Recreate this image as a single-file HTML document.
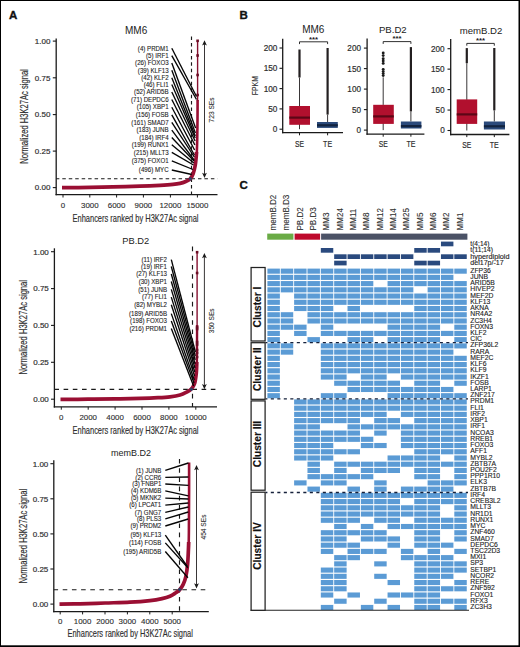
<!DOCTYPE html>
<html><head><meta charset="utf-8"><title>figure</title>
<style>html,body{margin:0;padding:0;background:#fff;width:520px;height:647px;overflow:hidden}
svg text{font-family:"Liberation Sans", sans-serif}</style></head>
<body>
<svg width="520" height="647" viewBox="0 0 520 647" style="display:block" font-family="&quot;Liberation Sans&quot;, sans-serif">
<rect x="0.00" y="0.00" width="520.00" height="647.00" fill="#ffffff" />
<text x="125.00" y="34.00" font-size="10" text-anchor="start" fill="#222222" >MM6</text>
<line x1="56.20" y1="38.50" x2="56.20" y2="195.35" stroke="#1a1a1a" stroke-width="1.3" stroke-linecap="butt"/>
<line x1="52.80" y1="41.10" x2="56.20" y2="41.10" stroke="#1a1a1a" stroke-width="1.1" stroke-linecap="butt"/>
<text x="50.40" y="43.90" font-size="8.0" text-anchor="end" fill="#2e2e2e" stroke="#2e2e2e" stroke-width="0.18" >1.00</text>
<line x1="52.80" y1="77.80" x2="56.20" y2="77.80" stroke="#1a1a1a" stroke-width="1.1" stroke-linecap="butt"/>
<text x="50.40" y="80.60" font-size="8.0" text-anchor="end" fill="#2e2e2e" stroke="#2e2e2e" stroke-width="0.18" >0.75</text>
<line x1="52.80" y1="114.60" x2="56.20" y2="114.60" stroke="#1a1a1a" stroke-width="1.1" stroke-linecap="butt"/>
<text x="50.40" y="117.40" font-size="8.0" text-anchor="end" fill="#2e2e2e" stroke="#2e2e2e" stroke-width="0.18" >0.50</text>
<line x1="52.80" y1="151.10" x2="56.20" y2="151.10" stroke="#1a1a1a" stroke-width="1.1" stroke-linecap="butt"/>
<text x="50.40" y="153.90" font-size="8.0" text-anchor="end" fill="#2e2e2e" stroke="#2e2e2e" stroke-width="0.18" >0.25</text>
<line x1="52.80" y1="187.60" x2="56.20" y2="187.60" stroke="#1a1a1a" stroke-width="1.1" stroke-linecap="butt"/>
<text x="50.40" y="190.40" font-size="8.0" text-anchor="end" fill="#2e2e2e" stroke="#2e2e2e" stroke-width="0.18" >0.00</text>
<line x1="55.55" y1="194.70" x2="217.50" y2="194.70" stroke="#1a1a1a" stroke-width="1.3" stroke-linecap="butt"/>
<line x1="63.00" y1="194.70" x2="63.00" y2="197.50" stroke="#1a1a1a" stroke-width="1.0" stroke-linecap="butt"/>
<text x="63.00" y="207.80" font-size="7.9" text-anchor="middle" fill="#2e2e2e" stroke="#2e2e2e" stroke-width="0.12" >0</text>
<line x1="89.80" y1="194.70" x2="89.80" y2="197.50" stroke="#1a1a1a" stroke-width="1.0" stroke-linecap="butt"/>
<text x="89.80" y="207.80" font-size="7.9" text-anchor="middle" fill="#2e2e2e" stroke="#2e2e2e" stroke-width="0.12" >3000</text>
<line x1="116.60" y1="194.70" x2="116.60" y2="197.50" stroke="#1a1a1a" stroke-width="1.0" stroke-linecap="butt"/>
<text x="116.60" y="207.80" font-size="7.9" text-anchor="middle" fill="#2e2e2e" stroke="#2e2e2e" stroke-width="0.12" >6000</text>
<line x1="143.40" y1="194.70" x2="143.40" y2="197.50" stroke="#1a1a1a" stroke-width="1.0" stroke-linecap="butt"/>
<text x="143.40" y="207.80" font-size="7.9" text-anchor="middle" fill="#2e2e2e" stroke="#2e2e2e" stroke-width="0.12" >9000</text>
<line x1="170.40" y1="194.70" x2="170.40" y2="197.50" stroke="#1a1a1a" stroke-width="1.0" stroke-linecap="butt"/>
<text x="170.40" y="207.80" font-size="7.9" text-anchor="middle" fill="#2e2e2e" stroke="#2e2e2e" stroke-width="0.12" >12000</text>
<line x1="197.40" y1="194.70" x2="197.40" y2="197.50" stroke="#1a1a1a" stroke-width="1.0" stroke-linecap="butt"/>
<text x="197.40" y="207.80" font-size="7.9" text-anchor="middle" fill="#2e2e2e" stroke="#2e2e2e" stroke-width="0.12" >15000</text>
<text x="72.50" y="221.60" font-size="10.3" text-anchor="start" fill="#2e2e2e" stroke="#2e2e2e" stroke-width="0.15" textLength="126.0" lengthAdjust="spacingAndGlyphs" >Enhancers ranked by H3K27Ac signal</text>
<text x="28.20" y="116.50" font-size="10.3" text-anchor="middle" fill="#2e2e2e" stroke="#2e2e2e" stroke-width="0.15" textLength="94.6" lengthAdjust="spacingAndGlyphs" transform="rotate(-90 28.20 116.50)" >Normalized H3K27Ac signal</text>
<line x1="56.20" y1="178.70" x2="217.50" y2="178.70" stroke="#1a1a1a" stroke-width="1.15" stroke-dasharray="3.5 2.96" stroke-dashoffset="0.36" stroke-linecap="butt"/>
<line x1="191.50" y1="36.50" x2="191.50" y2="194.70" stroke="#1a1a1a" stroke-width="1.15" stroke-dasharray="3.5 2.96" stroke-linecap="butt"/>
<path d="M62.00,187.70 C66.67,187.65 81.50,187.53 90.00,187.40 C98.50,187.27 104.67,187.10 113.00,186.90 C121.33,186.70 132.17,186.47 140.00,186.20 C147.83,185.93 154.50,185.60 160.00,185.30 C165.50,185.00 169.67,184.72 173.00,184.40 C176.33,184.08 177.97,183.83 180.00,183.40 C182.03,182.97 183.48,182.58 185.20,181.80 C186.92,181.02 188.97,180.08 190.30,178.70 C191.63,177.32 192.38,175.70 193.20,173.50 C194.02,171.30 194.70,168.25 195.20,165.50 C195.70,162.75 195.98,159.25 196.20,157.00 C196.42,154.75 196.45,152.83 196.50,152.00" stroke="#9a0f33" stroke-width="3.7" fill="none" stroke-linecap="butt" stroke-linejoin="round"/>
<path d="M196.60,157.00 C196.65,155.83 196.80,152.83 196.90,150.00 C197.00,147.17 197.10,145.00 197.20,140.00 C197.30,135.00 197.43,126.67 197.50,120.00 C197.57,113.33 197.58,103.33 197.60,100.00" stroke="#9a0f33" stroke-width="2.6" fill="none" stroke-linecap="butt"/>
<line x1="197.60" y1="40.30" x2="197.60" y2="101.00" stroke="#85102f" stroke-width="1.4" stroke-linecap="butt"/>
<rect x="196.30" y="39.50" width="2.6" height="2.6" fill="#6a0c24"/>
<rect x="196.30" y="54.20" width="2.6" height="2.6" fill="#6a0c24"/>
<rect x="196.30" y="73.70" width="2.6" height="2.6" fill="#6a0c24"/>
<rect x="196.30" y="93.70" width="2.6" height="2.6" fill="#6a0c24"/>
<text x="168.60" y="50.55" font-size="6.5" text-anchor="end" fill="#1c1c1c" stroke="#1c1c1c" stroke-width="0.1" textLength="30.75" lengthAdjust="spacingAndGlyphs" >(4) PRDM1</text>
<line x1="171.80" y1="48.30" x2="196.50" y2="96.50" stroke="#050505" stroke-width="1.35" stroke-linecap="butt"/>
<text x="168.60" y="57.95" font-size="6.5" text-anchor="end" fill="#1c1c1c" stroke="#1c1c1c" stroke-width="0.1" textLength="22.55" lengthAdjust="spacingAndGlyphs" >(5) IRF1</text>
<line x1="171.80" y1="55.70" x2="196.50" y2="99.50" stroke="#050505" stroke-width="1.35" stroke-linecap="butt"/>
<text x="168.60" y="65.15" font-size="6.5" text-anchor="end" fill="#1c1c1c" stroke="#1c1c1c" stroke-width="0.1" textLength="33.49" lengthAdjust="spacingAndGlyphs" >(26) FOXO3</text>
<line x1="171.80" y1="62.90" x2="195.60" y2="128.00" stroke="#050505" stroke-width="1.35" stroke-linecap="butt"/>
<text x="168.60" y="72.55" font-size="6.5" text-anchor="end" fill="#1c1c1c" stroke="#1c1c1c" stroke-width="0.1" textLength="30.77" lengthAdjust="spacingAndGlyphs" >(39) KLF13</text>
<line x1="171.80" y1="70.30" x2="195.40" y2="133.00" stroke="#050505" stroke-width="1.35" stroke-linecap="butt"/>
<text x="168.60" y="79.95" font-size="6.5" text-anchor="end" fill="#1c1c1c" stroke="#1c1c1c" stroke-width="0.1" textLength="27.34" lengthAdjust="spacingAndGlyphs" >(42) KLF2</text>
<line x1="171.80" y1="77.70" x2="195.30" y2="136.00" stroke="#050505" stroke-width="1.35" stroke-linecap="butt"/>
<text x="168.60" y="86.85" font-size="6.5" text-anchor="end" fill="#1c1c1c" stroke="#1c1c1c" stroke-width="0.1" textLength="24.95" lengthAdjust="spacingAndGlyphs" >(46) FLI1</text>
<line x1="171.80" y1="84.60" x2="195.20" y2="138.00" stroke="#050505" stroke-width="1.35" stroke-linecap="butt"/>
<text x="168.60" y="94.25" font-size="6.5" text-anchor="end" fill="#1c1c1c" stroke="#1c1c1c" stroke-width="0.1" textLength="34.52" lengthAdjust="spacingAndGlyphs" >(52) ARID5B</text>
<line x1="171.80" y1="92.00" x2="195.10" y2="141.00" stroke="#050505" stroke-width="1.35" stroke-linecap="butt"/>
<text x="168.60" y="101.75" font-size="6.5" text-anchor="end" fill="#1c1c1c" stroke="#1c1c1c" stroke-width="0.1" textLength="37.59" lengthAdjust="spacingAndGlyphs" >(71) DEPDC6</text>
<line x1="171.80" y1="99.50" x2="194.90" y2="145.00" stroke="#050505" stroke-width="1.35" stroke-linecap="butt"/>
<text x="168.60" y="109.45" font-size="6.5" text-anchor="end" fill="#1c1c1c" stroke="#1c1c1c" stroke-width="0.1" textLength="31.79" lengthAdjust="spacingAndGlyphs" >(105) XBP1</text>
<line x1="171.80" y1="107.20" x2="194.60" y2="150.00" stroke="#050505" stroke-width="1.35" stroke-linecap="butt"/>
<text x="168.60" y="117.15" font-size="6.5" text-anchor="end" fill="#1c1c1c" stroke="#1c1c1c" stroke-width="0.1" textLength="32.81" lengthAdjust="spacingAndGlyphs" >(156) FOSB</text>
<line x1="171.80" y1="114.90" x2="194.40" y2="155.00" stroke="#050505" stroke-width="1.35" stroke-linecap="butt"/>
<text x="168.60" y="124.55" font-size="6.5" text-anchor="end" fill="#1c1c1c" stroke="#1c1c1c" stroke-width="0.1" textLength="37.25" lengthAdjust="spacingAndGlyphs" >(161) SMAD7</text>
<line x1="171.80" y1="122.30" x2="194.30" y2="157.00" stroke="#050505" stroke-width="1.35" stroke-linecap="butt"/>
<text x="168.60" y="132.45" font-size="6.5" text-anchor="end" fill="#1c1c1c" stroke="#1c1c1c" stroke-width="0.1" textLength="32.13" lengthAdjust="spacingAndGlyphs" >(183) JUNB</text>
<line x1="171.80" y1="130.20" x2="194.10" y2="160.00" stroke="#050505" stroke-width="1.35" stroke-linecap="butt"/>
<text x="168.60" y="139.75" font-size="6.5" text-anchor="end" fill="#1c1c1c" stroke="#1c1c1c" stroke-width="0.1" textLength="29.39" lengthAdjust="spacingAndGlyphs" >(184) IRF4</text>
<line x1="171.80" y1="137.50" x2="194.00" y2="161.00" stroke="#050505" stroke-width="1.35" stroke-linecap="butt"/>
<text x="168.60" y="146.95" font-size="6.5" text-anchor="end" fill="#1c1c1c" stroke="#1c1c1c" stroke-width="0.1" textLength="36.91" lengthAdjust="spacingAndGlyphs" >(199) RUNX1</text>
<line x1="171.80" y1="144.70" x2="193.80" y2="163.00" stroke="#050505" stroke-width="1.35" stroke-linecap="butt"/>
<text x="168.60" y="154.55" font-size="6.5" text-anchor="end" fill="#1c1c1c" stroke="#1c1c1c" stroke-width="0.1" textLength="34.75" lengthAdjust="spacingAndGlyphs" >(215) MLLT3</text>
<line x1="171.80" y1="152.30" x2="193.50" y2="165.00" stroke="#050505" stroke-width="1.35" stroke-linecap="butt"/>
<text x="168.60" y="163.05" font-size="6.5" text-anchor="end" fill="#1c1c1c" stroke="#1c1c1c" stroke-width="0.1" textLength="36.91" lengthAdjust="spacingAndGlyphs" >(375) FOXO1</text>
<line x1="171.80" y1="160.80" x2="193.00" y2="169.50" stroke="#050505" stroke-width="1.35" stroke-linecap="butt"/>
<text x="168.60" y="172.25" font-size="6.5" text-anchor="end" fill="#1c1c1c" stroke="#1c1c1c" stroke-width="0.1" textLength="29.73" lengthAdjust="spacingAndGlyphs" >(496) MYC</text>
<line x1="171.80" y1="170.00" x2="191.80" y2="174.50" stroke="#050505" stroke-width="1.35" stroke-linecap="butt"/>
<path d="M190.40,176.70 L192.40,178.70 L190.40,180.70 L188.40,178.70 Z" stroke="none" stroke-width="1" fill="#2e3f66" />
<line x1="204.50" y1="42.30" x2="204.50" y2="176.00" stroke="#231f20" stroke-width="0.9" stroke-linecap="butt"/>
<path d="M204.50,40.30 L202.10,45.60 L204.50,44.30 L206.90,45.60 Z" stroke="none" stroke-width="1" fill="#1a1a1a" />
<path d="M204.50,178.00 L202.10,172.70 L204.50,174.00 L206.90,172.70 Z" stroke="none" stroke-width="1" fill="#1a1a1a" />
<text x="213.90" y="109.90" font-size="6.6" text-anchor="middle" fill="#2e2e2e" stroke="#2e2e2e" stroke-width="0.1" transform="rotate(-90 213.90 109.90)" >723 SEs</text>
<text x="122.30" y="243.80" font-size="9.3" text-anchor="start" fill="#222222" >PB.D2</text>
<line x1="54.40" y1="248.30" x2="54.40" y2="407.55" stroke="#1a1a1a" stroke-width="1.3" stroke-linecap="butt"/>
<line x1="51.00" y1="251.70" x2="54.40" y2="251.70" stroke="#1a1a1a" stroke-width="1.1" stroke-linecap="butt"/>
<text x="48.80" y="254.50" font-size="8.0" text-anchor="end" fill="#2e2e2e" stroke="#2e2e2e" stroke-width="0.18" >1.00</text>
<line x1="51.00" y1="288.60" x2="54.40" y2="288.60" stroke="#1a1a1a" stroke-width="1.1" stroke-linecap="butt"/>
<text x="48.80" y="291.40" font-size="8.0" text-anchor="end" fill="#2e2e2e" stroke="#2e2e2e" stroke-width="0.18" >0.75</text>
<line x1="51.00" y1="325.40" x2="54.40" y2="325.40" stroke="#1a1a1a" stroke-width="1.1" stroke-linecap="butt"/>
<text x="48.80" y="328.20" font-size="8.0" text-anchor="end" fill="#2e2e2e" stroke="#2e2e2e" stroke-width="0.18" >0.50</text>
<line x1="51.00" y1="362.30" x2="54.40" y2="362.30" stroke="#1a1a1a" stroke-width="1.1" stroke-linecap="butt"/>
<text x="48.80" y="365.10" font-size="8.0" text-anchor="end" fill="#2e2e2e" stroke="#2e2e2e" stroke-width="0.18" >0.25</text>
<line x1="51.00" y1="399.20" x2="54.40" y2="399.20" stroke="#1a1a1a" stroke-width="1.1" stroke-linecap="butt"/>
<text x="48.80" y="402.00" font-size="8.0" text-anchor="end" fill="#2e2e2e" stroke="#2e2e2e" stroke-width="0.18" >0.00</text>
<line x1="53.75" y1="406.90" x2="217.00" y2="406.90" stroke="#1a1a1a" stroke-width="1.3" stroke-linecap="butt"/>
<line x1="61.30" y1="406.90" x2="61.30" y2="409.70" stroke="#1a1a1a" stroke-width="1.0" stroke-linecap="butt"/>
<text x="61.30" y="419.80" font-size="7.9" text-anchor="middle" fill="#2e2e2e" stroke="#2e2e2e" stroke-width="0.12" >0</text>
<line x1="88.20" y1="406.90" x2="88.20" y2="409.70" stroke="#1a1a1a" stroke-width="1.0" stroke-linecap="butt"/>
<text x="88.20" y="419.80" font-size="7.9" text-anchor="middle" fill="#2e2e2e" stroke="#2e2e2e" stroke-width="0.12" >2000</text>
<line x1="115.10" y1="406.90" x2="115.10" y2="409.70" stroke="#1a1a1a" stroke-width="1.0" stroke-linecap="butt"/>
<text x="115.10" y="419.80" font-size="7.9" text-anchor="middle" fill="#2e2e2e" stroke="#2e2e2e" stroke-width="0.12" >4000</text>
<line x1="142.00" y1="406.90" x2="142.00" y2="409.70" stroke="#1a1a1a" stroke-width="1.0" stroke-linecap="butt"/>
<text x="142.00" y="419.80" font-size="7.9" text-anchor="middle" fill="#2e2e2e" stroke="#2e2e2e" stroke-width="0.12" >6000</text>
<line x1="168.90" y1="406.90" x2="168.90" y2="409.70" stroke="#1a1a1a" stroke-width="1.0" stroke-linecap="butt"/>
<text x="168.90" y="419.80" font-size="7.9" text-anchor="middle" fill="#2e2e2e" stroke="#2e2e2e" stroke-width="0.12" >8000</text>
<line x1="195.80" y1="406.90" x2="195.80" y2="409.70" stroke="#1a1a1a" stroke-width="1.0" stroke-linecap="butt"/>
<text x="195.80" y="419.80" font-size="7.9" text-anchor="middle" fill="#2e2e2e" stroke="#2e2e2e" stroke-width="0.12" >10000</text>
<text x="72.50" y="433.60" font-size="10.3" text-anchor="start" fill="#2e2e2e" stroke="#2e2e2e" stroke-width="0.15" textLength="126.0" lengthAdjust="spacingAndGlyphs" >Enhancers ranked by H3K27Ac signal</text>
<text x="26.80" y="327.30" font-size="10.3" text-anchor="middle" fill="#2e2e2e" stroke="#2e2e2e" stroke-width="0.15" textLength="94.6" lengthAdjust="spacingAndGlyphs" transform="rotate(-90 26.80 327.30)" >Normalized H3K27Ac signal</text>
<line x1="54.40" y1="389.40" x2="217.00" y2="389.40" stroke="#1a1a1a" stroke-width="1.15" stroke-dasharray="4.6 4.6" stroke-linecap="butt"/>
<line x1="192.50" y1="246.60" x2="192.50" y2="406.90" stroke="#1a1a1a" stroke-width="1.15" stroke-dasharray="4.6 4.6" stroke-linecap="butt"/>
<path d="M60.50,399.40 C65.08,399.37 78.92,399.28 88.00,399.20 C97.08,399.12 106.33,399.03 115.00,398.90 C123.67,398.77 132.83,398.60 140.00,398.40 C147.17,398.20 153.00,397.97 158.00,397.70 C163.00,397.43 166.33,397.25 170.00,396.80 C173.67,396.35 177.25,395.77 180.00,395.00 C182.75,394.23 184.65,393.17 186.50,392.20 C188.35,391.23 189.77,390.60 191.10,389.20 C192.43,387.80 193.63,386.50 194.50,383.80 C195.37,381.10 195.92,376.63 196.30,373.00 C196.68,369.37 196.72,363.83 196.80,362.00" stroke="#9a0f33" stroke-width="3.7" fill="none" stroke-linecap="butt" stroke-linejoin="round"/>
<path d="M196.80,365.00 C196.82,364.17 196.87,363.67 196.90,360.00 C196.93,356.33 196.97,348.83 197.00,343.00 C197.03,337.17 197.08,328.00 197.10,325.00" stroke="#9a0f33" stroke-width="2.4" fill="none" stroke-linecap="butt"/>
<line x1="197.10" y1="251.20" x2="197.10" y2="366.00" stroke="#85102f" stroke-width="1.4" stroke-linecap="butt"/>
<rect x="195.80" y="250.90" width="2.6" height="2.6" fill="#6a0c24"/>
<rect x="195.80" y="271.70" width="2.6" height="2.6" fill="#6a0c24"/>
<rect x="195.80" y="325.70" width="2.6" height="2.6" fill="#6a0c24"/>
<rect x="195.80" y="327.70" width="2.6" height="2.6" fill="#6a0c24"/>
<rect x="195.80" y="340.70" width="2.6" height="2.6" fill="#6a0c24"/>
<rect x="195.80" y="343.20" width="2.6" height="2.6" fill="#6a0c24"/>
<rect x="195.80" y="348.70" width="2.6" height="2.6" fill="#6a0c24"/>
<rect x="195.80" y="351.70" width="2.6" height="2.6" fill="#6a0c24"/>
<rect x="195.80" y="355.70" width="2.6" height="2.6" fill="#6a0c24"/>
<text x="167.00" y="261.85" font-size="6.5" text-anchor="end" fill="#1c1c1c" stroke="#1c1c1c" stroke-width="0.1" textLength="25.52" lengthAdjust="spacingAndGlyphs" >(11) IRF2</text>
<line x1="171.30" y1="259.60" x2="195.40" y2="352.00" stroke="#050505" stroke-width="1.35" stroke-linecap="butt"/>
<text x="167.00" y="268.75" font-size="6.5" text-anchor="end" fill="#1c1c1c" stroke="#1c1c1c" stroke-width="0.1" textLength="25.97" lengthAdjust="spacingAndGlyphs" >(19) IRF1</text>
<line x1="171.30" y1="266.50" x2="195.30" y2="356.00" stroke="#050505" stroke-width="1.35" stroke-linecap="butt"/>
<text x="167.00" y="276.25" font-size="6.5" text-anchor="end" fill="#1c1c1c" stroke="#1c1c1c" stroke-width="0.1" textLength="30.77" lengthAdjust="spacingAndGlyphs" >(27) KLF13</text>
<line x1="171.30" y1="274.00" x2="195.20" y2="360.00" stroke="#050505" stroke-width="1.35" stroke-linecap="butt"/>
<text x="167.00" y="283.75" font-size="6.5" text-anchor="end" fill="#1c1c1c" stroke="#1c1c1c" stroke-width="0.1" textLength="28.37" lengthAdjust="spacingAndGlyphs" >(30) XBP1</text>
<line x1="171.30" y1="281.50" x2="195.10" y2="364.00" stroke="#050505" stroke-width="1.35" stroke-linecap="butt"/>
<text x="167.00" y="291.65" font-size="6.5" text-anchor="end" fill="#1c1c1c" stroke="#1c1c1c" stroke-width="0.1" textLength="28.71" lengthAdjust="spacingAndGlyphs" >(51) JUNB</text>
<line x1="171.30" y1="289.40" x2="195.00" y2="368.00" stroke="#050505" stroke-width="1.35" stroke-linecap="butt"/>
<text x="167.00" y="299.35" font-size="6.5" text-anchor="end" fill="#1c1c1c" stroke="#1c1c1c" stroke-width="0.1" textLength="24.95" lengthAdjust="spacingAndGlyphs" >(77) FLI1</text>
<line x1="171.30" y1="297.10" x2="194.80" y2="372.00" stroke="#050505" stroke-width="1.35" stroke-linecap="butt"/>
<text x="167.00" y="306.95" font-size="6.5" text-anchor="end" fill="#1c1c1c" stroke="#1c1c1c" stroke-width="0.1" textLength="32.81" lengthAdjust="spacingAndGlyphs" >(82) MYBL2</text>
<line x1="171.30" y1="304.70" x2="194.60" y2="376.00" stroke="#050505" stroke-width="1.35" stroke-linecap="butt"/>
<text x="167.00" y="315.85" font-size="6.5" text-anchor="end" fill="#1c1c1c" stroke="#1c1c1c" stroke-width="0.1" textLength="37.94" lengthAdjust="spacingAndGlyphs" >(189) ARID5B</text>
<line x1="171.30" y1="313.60" x2="194.30" y2="380.00" stroke="#050505" stroke-width="1.35" stroke-linecap="butt"/>
<text x="167.00" y="323.35" font-size="6.5" text-anchor="end" fill="#1c1c1c" stroke="#1c1c1c" stroke-width="0.1" textLength="36.91" lengthAdjust="spacingAndGlyphs" >(198) FOXO3</text>
<line x1="171.30" y1="321.10" x2="194.00" y2="383.00" stroke="#050505" stroke-width="1.35" stroke-linecap="butt"/>
<text x="167.00" y="330.85" font-size="6.5" text-anchor="end" fill="#1c1c1c" stroke="#1c1c1c" stroke-width="0.1" textLength="37.59" lengthAdjust="spacingAndGlyphs" >(216) PRDM1</text>
<line x1="171.30" y1="328.60" x2="193.60" y2="386.00" stroke="#050505" stroke-width="1.35" stroke-linecap="butt"/>
<path d="M191.40,387.20 L193.40,389.20 L191.40,391.20 L189.40,389.20 Z" stroke="none" stroke-width="1" fill="#2e3f66" />
<line x1="204.40" y1="255.00" x2="204.40" y2="387.20" stroke="#231f20" stroke-width="0.9" stroke-linecap="butt"/>
<path d="M204.40,253.00 L202.00,258.30 L204.40,257.00 L206.80,258.30 Z" stroke="none" stroke-width="1" fill="#1a1a1a" />
<path d="M204.40,389.20 L202.00,383.90 L204.40,385.20 L206.80,383.90 Z" stroke="none" stroke-width="1" fill="#1a1a1a" />
<text x="213.90" y="320.80" font-size="6.6" text-anchor="middle" fill="#2e2e2e" stroke="#2e2e2e" stroke-width="0.1" transform="rotate(-90 213.90 320.80)" >350 SEs</text>
<text x="131.00" y="456.00" font-size="9.0" text-anchor="middle" fill="#222222" >memB.D2</text>
<line x1="53.80" y1="460.30" x2="53.80" y2="612.25" stroke="#1a1a1a" stroke-width="1.3" stroke-linecap="butt"/>
<line x1="50.40" y1="463.70" x2="53.80" y2="463.70" stroke="#1a1a1a" stroke-width="1.1" stroke-linecap="butt"/>
<text x="48.30" y="466.50" font-size="8.0" text-anchor="end" fill="#2e2e2e" stroke="#2e2e2e" stroke-width="0.18" >1.00</text>
<line x1="50.40" y1="498.80" x2="53.80" y2="498.80" stroke="#1a1a1a" stroke-width="1.1" stroke-linecap="butt"/>
<text x="48.30" y="501.60" font-size="8.0" text-anchor="end" fill="#2e2e2e" stroke="#2e2e2e" stroke-width="0.18" >0.75</text>
<line x1="50.40" y1="533.90" x2="53.80" y2="533.90" stroke="#1a1a1a" stroke-width="1.1" stroke-linecap="butt"/>
<text x="48.30" y="536.70" font-size="8.0" text-anchor="end" fill="#2e2e2e" stroke="#2e2e2e" stroke-width="0.18" >0.50</text>
<line x1="50.40" y1="569.00" x2="53.80" y2="569.00" stroke="#1a1a1a" stroke-width="1.1" stroke-linecap="butt"/>
<text x="48.30" y="571.80" font-size="8.0" text-anchor="end" fill="#2e2e2e" stroke="#2e2e2e" stroke-width="0.18" >0.25</text>
<line x1="50.40" y1="604.10" x2="53.80" y2="604.10" stroke="#1a1a1a" stroke-width="1.1" stroke-linecap="butt"/>
<text x="48.30" y="606.90" font-size="8.0" text-anchor="end" fill="#2e2e2e" stroke="#2e2e2e" stroke-width="0.18" >0.00</text>
<line x1="53.15" y1="611.60" x2="208.80" y2="611.60" stroke="#1a1a1a" stroke-width="1.3" stroke-linecap="butt"/>
<line x1="60.20" y1="611.60" x2="60.20" y2="614.40" stroke="#1a1a1a" stroke-width="1.0" stroke-linecap="butt"/>
<text x="60.20" y="624.20" font-size="7.9" text-anchor="middle" fill="#2e2e2e" stroke="#2e2e2e" stroke-width="0.12" >0</text>
<line x1="82.60" y1="611.60" x2="82.60" y2="614.40" stroke="#1a1a1a" stroke-width="1.0" stroke-linecap="butt"/>
<text x="82.60" y="624.20" font-size="7.9" text-anchor="middle" fill="#2e2e2e" stroke="#2e2e2e" stroke-width="0.12" >1000</text>
<line x1="105.00" y1="611.60" x2="105.00" y2="614.40" stroke="#1a1a1a" stroke-width="1.0" stroke-linecap="butt"/>
<text x="105.00" y="624.20" font-size="7.9" text-anchor="middle" fill="#2e2e2e" stroke="#2e2e2e" stroke-width="0.12" >2000</text>
<line x1="127.40" y1="611.60" x2="127.40" y2="614.40" stroke="#1a1a1a" stroke-width="1.0" stroke-linecap="butt"/>
<text x="127.40" y="624.20" font-size="7.9" text-anchor="middle" fill="#2e2e2e" stroke="#2e2e2e" stroke-width="0.12" >3000</text>
<line x1="149.80" y1="611.60" x2="149.80" y2="614.40" stroke="#1a1a1a" stroke-width="1.0" stroke-linecap="butt"/>
<text x="149.80" y="624.20" font-size="7.9" text-anchor="middle" fill="#2e2e2e" stroke="#2e2e2e" stroke-width="0.12" >4000</text>
<line x1="172.20" y1="611.60" x2="172.20" y2="614.40" stroke="#1a1a1a" stroke-width="1.0" stroke-linecap="butt"/>
<text x="172.20" y="624.20" font-size="7.9" text-anchor="middle" fill="#2e2e2e" stroke="#2e2e2e" stroke-width="0.12" >5000</text>
<text x="67.50" y="636.50" font-size="10.3" text-anchor="start" fill="#2e2e2e" stroke="#2e2e2e" stroke-width="0.15" textLength="125.4" lengthAdjust="spacingAndGlyphs" >Enhancers ranked by H3K27Ac signal</text>
<text x="26.80" y="536.10" font-size="10.3" text-anchor="middle" fill="#2e2e2e" stroke="#2e2e2e" stroke-width="0.15" textLength="94.6" lengthAdjust="spacingAndGlyphs" transform="rotate(-90 26.80 536.10)" >Normalized H3K27Ac signal</text>
<line x1="53.80" y1="589.70" x2="207.00" y2="589.70" stroke="#1a1a1a" stroke-width="1.15" stroke-dasharray="4.6 4.6" stroke-dashoffset="0.3" stroke-linecap="butt"/>
<line x1="179.50" y1="459.00" x2="179.50" y2="611.60" stroke="#1a1a1a" stroke-width="1.15" stroke-dasharray="4.6 4.6" stroke-linecap="butt"/>
<path d="M59.50,604.20 C62.92,604.13 72.42,604.00 80.00,603.80 C87.58,603.60 96.67,603.27 105.00,603.00 C113.33,602.73 122.50,602.60 130.00,602.20 C137.50,601.80 144.67,601.20 150.00,600.60 C155.33,600.00 158.67,599.33 162.00,598.60 C165.33,597.87 167.70,597.17 170.00,596.20 C172.30,595.23 174.22,593.83 175.80,592.80 C177.38,591.77 178.27,591.40 179.50,590.00 C180.73,588.60 182.13,586.68 183.20,584.40 C184.27,582.12 185.17,579.67 185.90,576.30 C186.63,572.93 187.18,568.58 187.60,564.20 C188.02,559.82 188.22,553.70 188.40,550.00 C188.58,546.30 188.65,543.33 188.70,542.00" stroke="#9a0f33" stroke-width="3.7" fill="none" stroke-linecap="butt" stroke-linejoin="round"/>
<path d="M188.70,545.00 C188.73,542.50 188.85,535.83 188.90,530.00 C188.95,524.17 188.97,516.67 189.00,510.00 C189.03,503.33 189.08,497.92 189.10,490.00 C189.12,482.08 189.10,467.08 189.10,462.50" stroke="#9a0f33" stroke-width="2.6" fill="none" stroke-linecap="butt"/>
<line x1="189.10" y1="463.00" x2="189.10" y2="463.50" stroke="#85102f" stroke-width="1.4" stroke-linecap="butt"/>
<text x="161.30" y="472.65" font-size="6.5" text-anchor="end" fill="#1c1c1c" stroke="#1c1c1c" stroke-width="0.1" textLength="25.28" lengthAdjust="spacingAndGlyphs" >(1) JUNB</text>
<line x1="165.30" y1="470.40" x2="188.40" y2="463.00" stroke="#050505" stroke-width="1.35" stroke-linecap="butt"/>
<text x="161.30" y="479.65" font-size="6.5" text-anchor="end" fill="#1c1c1c" stroke="#1c1c1c" stroke-width="0.1" textLength="25.97" lengthAdjust="spacingAndGlyphs" >(2) CCR6</text>
<line x1="165.30" y1="477.40" x2="188.40" y2="477.00" stroke="#050505" stroke-width="1.35" stroke-linecap="butt"/>
<text x="161.30" y="486.25" font-size="6.5" text-anchor="end" fill="#1c1c1c" stroke="#1c1c1c" stroke-width="0.1" textLength="29.05" lengthAdjust="spacingAndGlyphs" >(3) FNBP1</text>
<line x1="165.30" y1="484.00" x2="188.40" y2="485.30" stroke="#050505" stroke-width="1.35" stroke-linecap="butt"/>
<text x="161.30" y="493.15" font-size="6.5" text-anchor="end" fill="#1c1c1c" stroke="#1c1c1c" stroke-width="0.1" textLength="30.41" lengthAdjust="spacingAndGlyphs" >(4) KDM6B</text>
<line x1="165.30" y1="490.90" x2="188.40" y2="495.80" stroke="#050505" stroke-width="1.35" stroke-linecap="butt"/>
<text x="161.30" y="500.35" font-size="6.5" text-anchor="end" fill="#1c1c1c" stroke="#1c1c1c" stroke-width="0.1" textLength="30.41" lengthAdjust="spacingAndGlyphs" >(5) MKNK2</text>
<line x1="165.30" y1="498.10" x2="188.40" y2="499.00" stroke="#050505" stroke-width="1.35" stroke-linecap="butt"/>
<text x="161.30" y="507.45" font-size="6.5" text-anchor="end" fill="#1c1c1c" stroke="#1c1c1c" stroke-width="0.1" textLength="32.01" lengthAdjust="spacingAndGlyphs" >(6) LPCAT1</text>
<line x1="165.30" y1="505.20" x2="188.40" y2="503.00" stroke="#050505" stroke-width="1.35" stroke-linecap="butt"/>
<text x="161.30" y="514.55" font-size="6.5" text-anchor="end" fill="#1c1c1c" stroke="#1c1c1c" stroke-width="0.1" textLength="26.65" lengthAdjust="spacingAndGlyphs" >(7) GNG7</text>
<line x1="165.30" y1="512.30" x2="188.40" y2="507.00" stroke="#050505" stroke-width="1.35" stroke-linecap="butt"/>
<text x="161.30" y="521.15" font-size="6.5" text-anchor="end" fill="#1c1c1c" stroke="#1c1c1c" stroke-width="0.1" textLength="24.27" lengthAdjust="spacingAndGlyphs" >(8) PLS3</text>
<line x1="165.30" y1="518.90" x2="188.30" y2="512.00" stroke="#050505" stroke-width="1.35" stroke-linecap="butt"/>
<text x="161.30" y="528.25" font-size="6.5" text-anchor="end" fill="#1c1c1c" stroke="#1c1c1c" stroke-width="0.1" textLength="30.75" lengthAdjust="spacingAndGlyphs" >(9) PRDM2</text>
<line x1="165.30" y1="526.00" x2="188.20" y2="519.00" stroke="#050505" stroke-width="1.35" stroke-linecap="butt"/>
<text x="161.30" y="537.45" font-size="6.5" text-anchor="end" fill="#1c1c1c" stroke="#1c1c1c" stroke-width="0.1" textLength="30.77" lengthAdjust="spacingAndGlyphs" >(95) KLF13</text>
<line x1="165.30" y1="535.20" x2="187.30" y2="566.50" stroke="#050505" stroke-width="1.35" stroke-linecap="butt"/>
<text x="161.30" y="545.15" font-size="6.5" text-anchor="end" fill="#1c1c1c" stroke="#1c1c1c" stroke-width="0.1" textLength="32.35" lengthAdjust="spacingAndGlyphs" >(114) FOSB</text>
<line x1="165.30" y1="542.90" x2="187.90" y2="567.80" stroke="#050505" stroke-width="1.35" stroke-linecap="butt"/>
<text x="161.30" y="553.75" font-size="6.5" text-anchor="end" fill="#1c1c1c" stroke="#1c1c1c" stroke-width="0.1" textLength="37.94" lengthAdjust="spacingAndGlyphs" >(195) ARID5B</text>
<line x1="165.30" y1="551.50" x2="187.90" y2="577.70" stroke="#050505" stroke-width="1.35" stroke-linecap="butt"/>
<path d="M179.60,587.60 L181.60,589.60 L179.60,591.60 L177.60,589.60 Z" stroke="none" stroke-width="1" fill="#2e3f66" />
<line x1="196.50" y1="467.00" x2="196.50" y2="586.50" stroke="#231f20" stroke-width="0.9" stroke-linecap="butt"/>
<path d="M196.50,465.00 L194.10,470.30 L196.50,469.00 L198.90,470.30 Z" stroke="none" stroke-width="1" fill="#1a1a1a" />
<path d="M196.50,588.50 L194.10,583.20 L196.50,584.50 L198.90,583.20 Z" stroke="none" stroke-width="1" fill="#1a1a1a" />
<text x="205.60" y="527.00" font-size="6.6" text-anchor="middle" fill="#2e2e2e" stroke="#2e2e2e" stroke-width="0.1" transform="rotate(-90 205.60 527.00)" >454 SEs</text>
<text x="258.00" y="85.60" font-size="9.8" text-anchor="middle" fill="#2e2e2e" stroke="#2e2e2e" stroke-width="0.1" textLength="19.2" lengthAdjust="spacingAndGlyphs" transform="rotate(-90 258.00 85.60)" >FPKM</text>
<text x="313.30" y="33.40" font-size="10" text-anchor="middle" fill="#222222" >MM6</text>
<line x1="282.70" y1="38.70" x2="282.70" y2="133.35" stroke="#1a1a1a" stroke-width="1.3" stroke-linecap="butt"/>
<line x1="282.05" y1="132.70" x2="343.00" y2="132.70" stroke="#1a1a1a" stroke-width="1.3" stroke-linecap="butt"/>
<line x1="279.50" y1="48.00" x2="282.70" y2="48.00" stroke="#1a1a1a" stroke-width="1.1" stroke-linecap="butt"/>
<text x="277.30" y="50.90" font-size="8.2" text-anchor="end" fill="#2e2e2e" stroke="#2e2e2e" stroke-width="0.18" >200</text>
<line x1="279.50" y1="68.30" x2="282.70" y2="68.30" stroke="#1a1a1a" stroke-width="1.1" stroke-linecap="butt"/>
<text x="277.30" y="71.20" font-size="8.2" text-anchor="end" fill="#2e2e2e" stroke="#2e2e2e" stroke-width="0.18" >150</text>
<line x1="279.50" y1="88.60" x2="282.70" y2="88.60" stroke="#1a1a1a" stroke-width="1.1" stroke-linecap="butt"/>
<text x="277.30" y="91.50" font-size="8.2" text-anchor="end" fill="#2e2e2e" stroke="#2e2e2e" stroke-width="0.18" >100</text>
<line x1="279.50" y1="108.90" x2="282.70" y2="108.90" stroke="#1a1a1a" stroke-width="1.1" stroke-linecap="butt"/>
<text x="277.30" y="111.80" font-size="8.2" text-anchor="end" fill="#2e2e2e" stroke="#2e2e2e" stroke-width="0.18" >50</text>
<line x1="279.50" y1="129.20" x2="282.70" y2="129.20" stroke="#1a1a1a" stroke-width="1.1" stroke-linecap="butt"/>
<text x="277.30" y="132.10" font-size="8.2" text-anchor="end" fill="#2e2e2e" stroke="#2e2e2e" stroke-width="0.18" >0</text>
<line x1="299.50" y1="132.70" x2="299.50" y2="135.30" stroke="#1a1a1a" stroke-width="1.0" stroke-linecap="butt"/>
<text x="299.50" y="146.60" font-size="8.4" text-anchor="middle" fill="#2e2e2e" stroke="#2e2e2e" stroke-width="0.18" textLength="9.0" lengthAdjust="spacingAndGlyphs" >SE</text>
<line x1="327.60" y1="132.70" x2="327.60" y2="135.30" stroke="#1a1a1a" stroke-width="1.0" stroke-linecap="butt"/>
<text x="327.60" y="146.60" font-size="8.4" text-anchor="middle" fill="#2e2e2e" stroke="#2e2e2e" stroke-width="0.18" textLength="9.0" lengthAdjust="spacingAndGlyphs" >TE</text>
<path d="M299.50,44.10 L299.50,41.80 L327.60,41.80 L327.60,44.10" stroke="#1a1a1a" stroke-width="0.9" fill="none" />
<text x="313.55" y="41.60" font-size="8.0" text-anchor="middle" fill="#222222" font-weight="bold" textLength="9.0" lengthAdjust="spacingAndGlyphs" >***</text>
<line x1="299.50" y1="106.00" x2="299.50" y2="129.20" stroke="#231f20" stroke-width="0.9" stroke-linecap="butt"/>
<line x1="299.50" y1="106.00" x2="299.50" y2="77.50" stroke="#231f20" stroke-width="0.9" stroke-linecap="butt"/>
<line x1="299.50" y1="49.50" x2="299.50" y2="77.50" stroke="#231f20" stroke-width="2.2" stroke-linecap="butt"/>
<rect x="289.30" y="106.00" width="20.70" height="18.80" fill="#b1102e" />
<rect x="289.30" y="116.50" width="20.70" height="2.20" fill="#5c0616" />
<line x1="327.60" y1="122.00" x2="327.60" y2="114.60" stroke="#231f20" stroke-width="0.9" stroke-linecap="butt"/>
<line x1="327.60" y1="48.00" x2="327.60" y2="114.60" stroke="#231f20" stroke-width="2.2" stroke-linecap="butt"/>
<rect x="317.00" y="122.00" width="20.80" height="5.90" fill="#2b4a7b" />
<rect x="317.00" y="124.20" width="20.80" height="2.20" fill="#12233f" />
<text x="392.80" y="33.10" font-size="9.6" text-anchor="middle" fill="#222222" >PB.D2</text>
<line x1="367.10" y1="38.50" x2="367.10" y2="134.75" stroke="#1a1a1a" stroke-width="1.3" stroke-linecap="butt"/>
<line x1="366.45" y1="134.10" x2="424.40" y2="134.10" stroke="#1a1a1a" stroke-width="1.3" stroke-linecap="butt"/>
<line x1="363.90" y1="48.10" x2="367.10" y2="48.10" stroke="#1a1a1a" stroke-width="1.1" stroke-linecap="butt"/>
<text x="361.00" y="51.00" font-size="8.2" text-anchor="end" fill="#2e2e2e" stroke="#2e2e2e" stroke-width="0.18" >200</text>
<line x1="363.90" y1="68.60" x2="367.10" y2="68.60" stroke="#1a1a1a" stroke-width="1.1" stroke-linecap="butt"/>
<text x="361.00" y="71.50" font-size="8.2" text-anchor="end" fill="#2e2e2e" stroke="#2e2e2e" stroke-width="0.18" >150</text>
<line x1="363.90" y1="89.10" x2="367.10" y2="89.10" stroke="#1a1a1a" stroke-width="1.1" stroke-linecap="butt"/>
<text x="361.00" y="92.00" font-size="8.2" text-anchor="end" fill="#2e2e2e" stroke="#2e2e2e" stroke-width="0.18" >100</text>
<line x1="363.90" y1="109.60" x2="367.10" y2="109.60" stroke="#1a1a1a" stroke-width="1.1" stroke-linecap="butt"/>
<text x="361.00" y="112.50" font-size="8.2" text-anchor="end" fill="#2e2e2e" stroke="#2e2e2e" stroke-width="0.18" >50</text>
<line x1="363.90" y1="130.10" x2="367.10" y2="130.10" stroke="#1a1a1a" stroke-width="1.1" stroke-linecap="butt"/>
<text x="361.00" y="133.00" font-size="8.2" text-anchor="end" fill="#2e2e2e" stroke="#2e2e2e" stroke-width="0.18" >0</text>
<line x1="383.20" y1="134.10" x2="383.20" y2="136.70" stroke="#1a1a1a" stroke-width="1.0" stroke-linecap="butt"/>
<text x="383.20" y="147.00" font-size="8.4" text-anchor="middle" fill="#2e2e2e" stroke="#2e2e2e" stroke-width="0.18" textLength="9.0" lengthAdjust="spacingAndGlyphs" >SE</text>
<line x1="410.90" y1="134.10" x2="410.90" y2="136.70" stroke="#1a1a1a" stroke-width="1.0" stroke-linecap="butt"/>
<text x="410.90" y="147.00" font-size="8.4" text-anchor="middle" fill="#2e2e2e" stroke="#2e2e2e" stroke-width="0.18" textLength="9.0" lengthAdjust="spacingAndGlyphs" >TE</text>
<path d="M383.20,43.90 L383.20,41.60 L410.90,41.60 L410.90,43.90" stroke="#1a1a1a" stroke-width="0.9" fill="none" />
<text x="397.05" y="41.40" font-size="8.0" text-anchor="middle" fill="#222222" font-weight="bold" textLength="9.0" lengthAdjust="spacingAndGlyphs" >***</text>
<line x1="383.20" y1="104.80" x2="383.20" y2="130.10" stroke="#231f20" stroke-width="0.9" stroke-linecap="butt"/>
<line x1="383.20" y1="104.80" x2="383.20" y2="77.30" stroke="#231f20" stroke-width="0.9" stroke-linecap="butt"/>
<circle cx="383.20" cy="53.00" r="1.45" fill="#1a1a1a"/>
<circle cx="383.20" cy="55.60" r="1.45" fill="#1a1a1a"/>
<circle cx="383.20" cy="58.80" r="1.45" fill="#1a1a1a"/>
<circle cx="383.20" cy="61.00" r="1.45" fill="#1a1a1a"/>
<circle cx="383.20" cy="63.40" r="1.45" fill="#1a1a1a"/>
<circle cx="383.20" cy="69.40" r="1.45" fill="#1a1a1a"/>
<circle cx="383.20" cy="71.60" r="1.45" fill="#1a1a1a"/>
<circle cx="383.20" cy="73.60" r="1.45" fill="#1a1a1a"/>
<circle cx="383.20" cy="75.60" r="1.45" fill="#1a1a1a"/>
<rect x="373.20" y="104.80" width="20.60" height="19.10" fill="#b1102e" />
<rect x="373.20" y="115.30" width="20.60" height="2.20" fill="#5c0616" />
<line x1="410.90" y1="121.50" x2="410.90" y2="111.40" stroke="#231f20" stroke-width="0.9" stroke-linecap="butt"/>
<line x1="410.90" y1="47.10" x2="410.90" y2="111.40" stroke="#231f20" stroke-width="2.2" stroke-linecap="butt"/>
<rect x="400.90" y="121.50" width="20.50" height="7.00" fill="#2b4a7b" />
<rect x="400.90" y="125.00" width="20.50" height="2.20" fill="#12233f" />
<text x="481.00" y="34.20" font-size="9.6" text-anchor="middle" fill="#222222" >memB.D2</text>
<line x1="450.70" y1="39.10" x2="450.70" y2="135.15" stroke="#1a1a1a" stroke-width="1.3" stroke-linecap="butt"/>
<line x1="450.05" y1="134.50" x2="509.40" y2="134.50" stroke="#1a1a1a" stroke-width="1.3" stroke-linecap="butt"/>
<line x1="447.50" y1="48.70" x2="450.70" y2="48.70" stroke="#1a1a1a" stroke-width="1.1" stroke-linecap="butt"/>
<text x="444.70" y="51.60" font-size="8.2" text-anchor="end" fill="#2e2e2e" stroke="#2e2e2e" stroke-width="0.18" >200</text>
<line x1="447.50" y1="69.15" x2="450.70" y2="69.15" stroke="#1a1a1a" stroke-width="1.1" stroke-linecap="butt"/>
<text x="444.70" y="72.05" font-size="8.2" text-anchor="end" fill="#2e2e2e" stroke="#2e2e2e" stroke-width="0.18" >150</text>
<line x1="447.50" y1="89.60" x2="450.70" y2="89.60" stroke="#1a1a1a" stroke-width="1.1" stroke-linecap="butt"/>
<text x="444.70" y="92.50" font-size="8.2" text-anchor="end" fill="#2e2e2e" stroke="#2e2e2e" stroke-width="0.18" >100</text>
<line x1="447.50" y1="110.05" x2="450.70" y2="110.05" stroke="#1a1a1a" stroke-width="1.1" stroke-linecap="butt"/>
<text x="444.70" y="112.95" font-size="8.2" text-anchor="end" fill="#2e2e2e" stroke="#2e2e2e" stroke-width="0.18" >50</text>
<line x1="447.50" y1="130.50" x2="450.70" y2="130.50" stroke="#1a1a1a" stroke-width="1.1" stroke-linecap="butt"/>
<text x="444.70" y="133.40" font-size="8.2" text-anchor="end" fill="#2e2e2e" stroke="#2e2e2e" stroke-width="0.18" >0</text>
<line x1="466.80" y1="134.50" x2="466.80" y2="137.10" stroke="#1a1a1a" stroke-width="1.0" stroke-linecap="butt"/>
<text x="466.80" y="147.60" font-size="8.4" text-anchor="middle" fill="#2e2e2e" stroke="#2e2e2e" stroke-width="0.18" textLength="9.0" lengthAdjust="spacingAndGlyphs" >SE</text>
<line x1="494.30" y1="134.50" x2="494.30" y2="137.10" stroke="#1a1a1a" stroke-width="1.0" stroke-linecap="butt"/>
<text x="494.30" y="147.60" font-size="8.4" text-anchor="middle" fill="#2e2e2e" stroke="#2e2e2e" stroke-width="0.18" textLength="9.0" lengthAdjust="spacingAndGlyphs" >TE</text>
<path d="M466.80,45.70 L466.80,43.40 L494.30,43.40 L494.30,45.70" stroke="#1a1a1a" stroke-width="0.9" fill="none" />
<text x="480.55" y="43.20" font-size="8.0" text-anchor="middle" fill="#222222" font-weight="bold" textLength="9.0" lengthAdjust="spacingAndGlyphs" >***</text>
<line x1="466.80" y1="99.40" x2="466.80" y2="130.50" stroke="#231f20" stroke-width="0.9" stroke-linecap="butt"/>
<line x1="466.80" y1="99.40" x2="466.80" y2="63.20" stroke="#231f20" stroke-width="0.9" stroke-linecap="butt"/>
<line x1="466.80" y1="48.10" x2="466.80" y2="63.20" stroke="#231f20" stroke-width="2.2" stroke-linecap="butt"/>
<rect x="456.70" y="99.40" width="20.50" height="24.50" fill="#b1102e" />
<rect x="456.70" y="113.30" width="20.50" height="2.20" fill="#5c0616" />
<line x1="494.30" y1="121.50" x2="494.30" y2="110.40" stroke="#231f20" stroke-width="0.9" stroke-linecap="butt"/>
<line x1="494.30" y1="48.00" x2="494.30" y2="110.40" stroke="#231f20" stroke-width="2.2" stroke-linecap="butt"/>
<rect x="483.90" y="121.50" width="21.10" height="8.00" fill="#2b4a7b" />
<rect x="483.90" y="125.20" width="21.10" height="2.20" fill="#12233f" />
<text x="275.95" y="230.50" font-size="8.6" text-anchor="start" fill="#2e2e2e" stroke="#2e2e2e" stroke-width="0.08" textLength="35.79" lengthAdjust="spacingAndGlyphs" transform="rotate(-90 275.95 230.50)" >memB.D2</text>
<text x="289.29" y="230.50" font-size="8.6" text-anchor="start" fill="#2e2e2e" stroke="#2e2e2e" stroke-width="0.08" textLength="35.79" lengthAdjust="spacingAndGlyphs" transform="rotate(-90 289.29 230.50)" >memB.D3</text>
<text x="302.64" y="230.50" font-size="8.6" text-anchor="start" fill="#2e2e2e" stroke="#2e2e2e" stroke-width="0.08" textLength="23.27" lengthAdjust="spacingAndGlyphs" transform="rotate(-90 302.64 230.50)" >PB.D2</text>
<text x="315.99" y="230.50" font-size="8.6" text-anchor="start" fill="#2e2e2e" stroke="#2e2e2e" stroke-width="0.08" textLength="23.27" lengthAdjust="spacingAndGlyphs" transform="rotate(-90 315.99 230.50)" >PB.D3</text>
<text x="329.34" y="230.50" font-size="8.6" text-anchor="start" fill="#2e2e2e" stroke="#2e2e2e" stroke-width="0.08" textLength="17.89" lengthAdjust="spacingAndGlyphs" transform="rotate(-90 329.34 230.50)" >MM3</text>
<text x="342.69" y="230.50" font-size="8.6" text-anchor="start" fill="#2e2e2e" stroke="#2e2e2e" stroke-width="0.08" textLength="22.37" lengthAdjust="spacingAndGlyphs" transform="rotate(-90 342.69 230.50)" >MM24</text>
<text x="356.04" y="230.50" font-size="8.6" text-anchor="start" fill="#2e2e2e" stroke="#2e2e2e" stroke-width="0.08" textLength="21.77" lengthAdjust="spacingAndGlyphs" transform="rotate(-90 356.04 230.50)" >MM11</text>
<text x="369.39" y="230.50" font-size="8.6" text-anchor="start" fill="#2e2e2e" stroke="#2e2e2e" stroke-width="0.08" textLength="17.89" lengthAdjust="spacingAndGlyphs" transform="rotate(-90 369.39 230.50)" >MM8</text>
<text x="382.74" y="230.50" font-size="8.6" text-anchor="start" fill="#2e2e2e" stroke="#2e2e2e" stroke-width="0.08" textLength="22.37" lengthAdjust="spacingAndGlyphs" transform="rotate(-90 382.74 230.50)" >MM12</text>
<text x="396.09" y="230.50" font-size="8.6" text-anchor="start" fill="#2e2e2e" stroke="#2e2e2e" stroke-width="0.08" textLength="22.37" lengthAdjust="spacingAndGlyphs" transform="rotate(-90 396.09 230.50)" >MM14</text>
<text x="409.44" y="230.50" font-size="8.6" text-anchor="start" fill="#2e2e2e" stroke="#2e2e2e" stroke-width="0.08" textLength="22.37" lengthAdjust="spacingAndGlyphs" transform="rotate(-90 409.44 230.50)" >MM25</text>
<text x="422.78" y="230.50" font-size="8.6" text-anchor="start" fill="#2e2e2e" stroke="#2e2e2e" stroke-width="0.08" textLength="17.89" lengthAdjust="spacingAndGlyphs" transform="rotate(-90 422.78 230.50)" >MM5</text>
<text x="436.13" y="230.50" font-size="8.6" text-anchor="start" fill="#2e2e2e" stroke="#2e2e2e" stroke-width="0.08" textLength="17.89" lengthAdjust="spacingAndGlyphs" transform="rotate(-90 436.13 230.50)" >MM6</text>
<text x="449.48" y="230.50" font-size="8.6" text-anchor="start" fill="#2e2e2e" stroke="#2e2e2e" stroke-width="0.08" textLength="17.89" lengthAdjust="spacingAndGlyphs" transform="rotate(-90 449.48 230.50)" >MM2</text>
<text x="462.83" y="230.50" font-size="8.6" text-anchor="start" fill="#2e2e2e" stroke="#2e2e2e" stroke-width="0.08" textLength="17.89" lengthAdjust="spacingAndGlyphs" transform="rotate(-90 462.83 230.50)" >MM1</text>
<rect x="267.22" y="233.60" width="26.20" height="6.10" fill="#6aab46" />
<rect x="294.60" y="233.60" width="25.50" height="6.10" fill="#be0a2c" />
<rect x="321.10" y="233.60" width="146.30" height="6.10" fill="#4b5266" />
<rect x="440.96" y="241.60" width="12.45" height="4.70" fill="#2a4a7e" />
<rect x="320.82" y="248.00" width="12.45" height="4.70" fill="#2a4a7e" />
<rect x="414.26" y="248.00" width="12.45" height="4.70" fill="#2a4a7e" />
<rect x="427.61" y="248.00" width="12.45" height="4.70" fill="#2a4a7e" />
<rect x="334.17" y="254.30" width="12.45" height="4.70" fill="#2a4a7e" />
<rect x="347.51" y="254.30" width="12.45" height="4.70" fill="#2a4a7e" />
<rect x="360.86" y="254.30" width="12.45" height="4.70" fill="#2a4a7e" />
<rect x="374.21" y="254.30" width="12.45" height="4.70" fill="#2a4a7e" />
<rect x="387.56" y="254.30" width="12.45" height="4.70" fill="#2a4a7e" />
<rect x="400.91" y="254.30" width="12.45" height="4.70" fill="#2a4a7e" />
<rect x="440.96" y="254.30" width="12.45" height="4.70" fill="#2a4a7e" />
<rect x="454.31" y="254.30" width="12.45" height="4.70" fill="#2a4a7e" />
<rect x="334.17" y="260.70" width="12.45" height="4.70" fill="#2a4a7e" />
<rect x="414.26" y="260.70" width="12.45" height="4.70" fill="#2a4a7e" />
<rect x="427.61" y="260.70" width="12.45" height="4.70" fill="#2a4a7e" />
<text x="470.30" y="246.00" font-size="6.8" text-anchor="start" fill="#222222" stroke="#222222" stroke-width="0.12" textLength="19.2" lengthAdjust="spacingAndGlyphs" >t(4;14)</text>
<text x="470.30" y="252.40" font-size="6.8" text-anchor="start" fill="#222222" stroke="#222222" stroke-width="0.12" textLength="22.7" lengthAdjust="spacingAndGlyphs" >t(11;14)</text>
<text x="470.30" y="258.70" font-size="6.8" text-anchor="start" fill="#222222" stroke="#222222" stroke-width="0.12" textLength="39.2" lengthAdjust="spacingAndGlyphs" >hyperdiploid</text>
<text x="470.30" y="265.10" font-size="6.8" text-anchor="start" fill="#222222" stroke="#222222" stroke-width="0.12" textLength="33.4" lengthAdjust="spacingAndGlyphs" >del17p/-17</text>
<rect x="267.42" y="268.60" width="12.45" height="5.10" fill="#5b9bd5" />
<rect x="280.77" y="268.60" width="12.45" height="5.10" fill="#5b9bd5" />
<rect x="294.12" y="268.60" width="12.45" height="5.10" fill="#5b9bd5" />
<rect x="307.47" y="268.60" width="12.45" height="5.10" fill="#5b9bd5" />
<rect x="320.82" y="268.60" width="12.45" height="5.10" fill="#5b9bd5" />
<rect x="334.17" y="268.60" width="12.45" height="5.10" fill="#5b9bd5" />
<rect x="347.51" y="268.60" width="12.45" height="5.10" fill="#5b9bd5" />
<rect x="360.86" y="268.60" width="12.45" height="5.10" fill="#5b9bd5" />
<rect x="374.21" y="268.60" width="12.45" height="5.10" fill="#5b9bd5" />
<rect x="387.56" y="268.60" width="12.45" height="5.10" fill="#5b9bd5" />
<rect x="400.91" y="268.60" width="12.45" height="5.10" fill="#5b9bd5" />
<rect x="414.26" y="268.60" width="12.45" height="5.10" fill="#5b9bd5" />
<rect x="427.61" y="268.60" width="12.45" height="5.10" fill="#5b9bd5" />
<rect x="440.96" y="268.60" width="12.45" height="5.10" fill="#5b9bd5" />
<rect x="454.31" y="268.60" width="12.45" height="5.10" fill="#5b9bd5" />
<text x="470.30" y="272.70" font-size="6.8" text-anchor="start" fill="#222222" stroke="#222222" stroke-width="0.12" >ZFP36</text>
<rect x="267.42" y="274.83" width="12.45" height="5.10" fill="#5b9bd5" />
<rect x="280.77" y="274.83" width="12.45" height="5.10" fill="#5b9bd5" />
<rect x="294.12" y="274.83" width="12.45" height="5.10" fill="#5b9bd5" />
<rect x="307.47" y="274.83" width="12.45" height="5.10" fill="#5b9bd5" />
<rect x="320.82" y="274.83" width="12.45" height="5.10" fill="#5b9bd5" />
<rect x="334.17" y="274.83" width="12.45" height="5.10" fill="#5b9bd5" />
<rect x="347.51" y="274.83" width="12.45" height="5.10" fill="#5b9bd5" />
<rect x="360.86" y="274.83" width="12.45" height="5.10" fill="#5b9bd5" />
<rect x="374.21" y="274.83" width="12.45" height="5.10" fill="#5b9bd5" />
<rect x="387.56" y="274.83" width="12.45" height="5.10" fill="#5b9bd5" />
<rect x="400.91" y="274.83" width="12.45" height="5.10" fill="#5b9bd5" />
<rect x="414.26" y="274.83" width="12.45" height="5.10" fill="#5b9bd5" />
<rect x="427.61" y="274.83" width="12.45" height="5.10" fill="#5b9bd5" />
<rect x="440.96" y="274.83" width="12.45" height="5.10" fill="#5b9bd5" />
<text x="470.30" y="278.93" font-size="6.8" text-anchor="start" fill="#222222" stroke="#222222" stroke-width="0.12" >JUNB</text>
<rect x="267.42" y="281.06" width="12.45" height="5.10" fill="#5b9bd5" />
<rect x="280.77" y="281.06" width="12.45" height="5.10" fill="#5b9bd5" />
<rect x="294.12" y="281.06" width="12.45" height="5.10" fill="#5b9bd5" />
<rect x="307.47" y="281.06" width="12.45" height="5.10" fill="#5b9bd5" />
<rect x="320.82" y="281.06" width="12.45" height="5.10" fill="#5b9bd5" />
<rect x="334.17" y="281.06" width="12.45" height="5.10" fill="#5b9bd5" />
<rect x="347.51" y="281.06" width="12.45" height="5.10" fill="#5b9bd5" />
<rect x="360.86" y="281.06" width="12.45" height="5.10" fill="#5b9bd5" />
<rect x="387.56" y="281.06" width="12.45" height="5.10" fill="#5b9bd5" />
<rect x="400.91" y="281.06" width="12.45" height="5.10" fill="#5b9bd5" />
<rect x="414.26" y="281.06" width="12.45" height="5.10" fill="#5b9bd5" />
<rect x="427.61" y="281.06" width="12.45" height="5.10" fill="#5b9bd5" />
<rect x="440.96" y="281.06" width="12.45" height="5.10" fill="#5b9bd5" />
<rect x="454.31" y="281.06" width="12.45" height="5.10" fill="#5b9bd5" />
<text x="470.30" y="285.16" font-size="6.8" text-anchor="start" fill="#222222" stroke="#222222" stroke-width="0.12" >ARID5B</text>
<rect x="267.42" y="287.28" width="12.45" height="5.10" fill="#5b9bd5" />
<rect x="280.77" y="287.28" width="12.45" height="5.10" fill="#5b9bd5" />
<rect x="294.12" y="287.28" width="12.45" height="5.10" fill="#5b9bd5" />
<rect x="307.47" y="287.28" width="12.45" height="5.10" fill="#5b9bd5" />
<rect x="320.82" y="287.28" width="12.45" height="5.10" fill="#5b9bd5" />
<rect x="334.17" y="287.28" width="12.45" height="5.10" fill="#5b9bd5" />
<rect x="347.51" y="287.28" width="12.45" height="5.10" fill="#5b9bd5" />
<rect x="360.86" y="287.28" width="12.45" height="5.10" fill="#5b9bd5" />
<rect x="374.21" y="287.28" width="12.45" height="5.10" fill="#5b9bd5" />
<rect x="387.56" y="287.28" width="12.45" height="5.10" fill="#5b9bd5" />
<rect x="400.91" y="287.28" width="12.45" height="5.10" fill="#5b9bd5" />
<rect x="427.61" y="287.28" width="12.45" height="5.10" fill="#5b9bd5" />
<rect x="440.96" y="287.28" width="12.45" height="5.10" fill="#5b9bd5" />
<rect x="454.31" y="287.28" width="12.45" height="5.10" fill="#5b9bd5" />
<text x="470.30" y="291.38" font-size="6.8" text-anchor="start" fill="#222222" stroke="#222222" stroke-width="0.12" >HIVEP2</text>
<rect x="267.42" y="293.51" width="12.45" height="5.10" fill="#5b9bd5" />
<rect x="294.12" y="293.51" width="12.45" height="5.10" fill="#5b9bd5" />
<rect x="307.47" y="293.51" width="12.45" height="5.10" fill="#5b9bd5" />
<rect x="320.82" y="293.51" width="12.45" height="5.10" fill="#5b9bd5" />
<rect x="334.17" y="293.51" width="12.45" height="5.10" fill="#5b9bd5" />
<rect x="347.51" y="293.51" width="12.45" height="5.10" fill="#5b9bd5" />
<rect x="360.86" y="293.51" width="12.45" height="5.10" fill="#5b9bd5" />
<rect x="374.21" y="293.51" width="12.45" height="5.10" fill="#5b9bd5" />
<rect x="387.56" y="293.51" width="12.45" height="5.10" fill="#5b9bd5" />
<rect x="400.91" y="293.51" width="12.45" height="5.10" fill="#5b9bd5" />
<rect x="414.26" y="293.51" width="12.45" height="5.10" fill="#5b9bd5" />
<rect x="427.61" y="293.51" width="12.45" height="5.10" fill="#5b9bd5" />
<rect x="440.96" y="293.51" width="12.45" height="5.10" fill="#5b9bd5" />
<rect x="454.31" y="293.51" width="12.45" height="5.10" fill="#5b9bd5" />
<text x="470.30" y="297.61" font-size="6.8" text-anchor="start" fill="#222222" stroke="#222222" stroke-width="0.12" >MEF2D</text>
<rect x="267.42" y="299.74" width="12.45" height="5.10" fill="#5b9bd5" />
<rect x="294.12" y="299.74" width="12.45" height="5.10" fill="#5b9bd5" />
<rect x="307.47" y="299.74" width="12.45" height="5.10" fill="#5b9bd5" />
<rect x="320.82" y="299.74" width="12.45" height="5.10" fill="#5b9bd5" />
<rect x="334.17" y="299.74" width="12.45" height="5.10" fill="#5b9bd5" />
<rect x="347.51" y="299.74" width="12.45" height="5.10" fill="#5b9bd5" />
<rect x="360.86" y="299.74" width="12.45" height="5.10" fill="#5b9bd5" />
<rect x="374.21" y="299.74" width="12.45" height="5.10" fill="#5b9bd5" />
<rect x="387.56" y="299.74" width="12.45" height="5.10" fill="#5b9bd5" />
<rect x="400.91" y="299.74" width="12.45" height="5.10" fill="#5b9bd5" />
<rect x="414.26" y="299.74" width="12.45" height="5.10" fill="#5b9bd5" />
<rect x="427.61" y="299.74" width="12.45" height="5.10" fill="#5b9bd5" />
<rect x="440.96" y="299.74" width="12.45" height="5.10" fill="#5b9bd5" />
<rect x="454.31" y="299.74" width="12.45" height="5.10" fill="#5b9bd5" />
<text x="470.30" y="303.84" font-size="6.8" text-anchor="start" fill="#222222" stroke="#222222" stroke-width="0.12" >KLF13</text>
<rect x="267.42" y="305.97" width="12.45" height="5.10" fill="#5b9bd5" />
<rect x="294.12" y="305.97" width="12.45" height="5.10" fill="#5b9bd5" />
<rect x="307.47" y="305.97" width="12.45" height="5.10" fill="#5b9bd5" />
<rect x="320.82" y="305.97" width="12.45" height="5.10" fill="#5b9bd5" />
<rect x="347.51" y="305.97" width="12.45" height="5.10" fill="#5b9bd5" />
<rect x="414.26" y="305.97" width="12.45" height="5.10" fill="#5b9bd5" />
<rect x="427.61" y="305.97" width="12.45" height="5.10" fill="#5b9bd5" />
<rect x="440.96" y="305.97" width="12.45" height="5.10" fill="#5b9bd5" />
<rect x="454.31" y="305.97" width="12.45" height="5.10" fill="#5b9bd5" />
<text x="470.30" y="310.07" font-size="6.8" text-anchor="start" fill="#222222" stroke="#222222" stroke-width="0.12" >AKNA</text>
<rect x="267.42" y="312.20" width="12.45" height="5.10" fill="#5b9bd5" />
<rect x="280.77" y="312.20" width="12.45" height="5.10" fill="#5b9bd5" />
<rect x="307.47" y="312.20" width="12.45" height="5.10" fill="#5b9bd5" />
<rect x="320.82" y="312.20" width="12.45" height="5.10" fill="#5b9bd5" />
<rect x="334.17" y="312.20" width="12.45" height="5.10" fill="#5b9bd5" />
<rect x="347.51" y="312.20" width="12.45" height="5.10" fill="#5b9bd5" />
<rect x="360.86" y="312.20" width="12.45" height="5.10" fill="#5b9bd5" />
<rect x="374.21" y="312.20" width="12.45" height="5.10" fill="#5b9bd5" />
<rect x="387.56" y="312.20" width="12.45" height="5.10" fill="#5b9bd5" />
<rect x="400.91" y="312.20" width="12.45" height="5.10" fill="#5b9bd5" />
<rect x="414.26" y="312.20" width="12.45" height="5.10" fill="#5b9bd5" />
<rect x="427.61" y="312.20" width="12.45" height="5.10" fill="#5b9bd5" />
<rect x="440.96" y="312.20" width="12.45" height="5.10" fill="#5b9bd5" />
<rect x="454.31" y="312.20" width="12.45" height="5.10" fill="#5b9bd5" />
<text x="470.30" y="316.30" font-size="6.8" text-anchor="start" fill="#222222" stroke="#222222" stroke-width="0.12" >NR4A2</text>
<rect x="267.42" y="318.42" width="12.45" height="5.10" fill="#5b9bd5" />
<rect x="280.77" y="318.42" width="12.45" height="5.10" fill="#5b9bd5" />
<rect x="307.47" y="318.42" width="12.45" height="5.10" fill="#5b9bd5" />
<rect x="320.82" y="318.42" width="12.45" height="5.10" fill="#5b9bd5" />
<rect x="334.17" y="318.42" width="12.45" height="5.10" fill="#5b9bd5" />
<rect x="347.51" y="318.42" width="12.45" height="5.10" fill="#5b9bd5" />
<rect x="360.86" y="318.42" width="12.45" height="5.10" fill="#5b9bd5" />
<rect x="374.21" y="318.42" width="12.45" height="5.10" fill="#5b9bd5" />
<rect x="387.56" y="318.42" width="12.45" height="5.10" fill="#5b9bd5" />
<rect x="400.91" y="318.42" width="12.45" height="5.10" fill="#5b9bd5" />
<rect x="414.26" y="318.42" width="12.45" height="5.10" fill="#5b9bd5" />
<rect x="427.61" y="318.42" width="12.45" height="5.10" fill="#5b9bd5" />
<rect x="440.96" y="318.42" width="12.45" height="5.10" fill="#5b9bd5" />
<rect x="454.31" y="318.42" width="12.45" height="5.10" fill="#5b9bd5" />
<text x="470.30" y="322.52" font-size="6.8" text-anchor="start" fill="#222222" stroke="#222222" stroke-width="0.12" >ZC3H4</text>
<rect x="267.42" y="324.65" width="12.45" height="5.10" fill="#5b9bd5" />
<rect x="280.77" y="324.65" width="12.45" height="5.10" fill="#5b9bd5" />
<rect x="294.12" y="324.65" width="12.45" height="5.10" fill="#5b9bd5" />
<rect x="320.82" y="324.65" width="12.45" height="5.10" fill="#5b9bd5" />
<rect x="387.56" y="324.65" width="12.45" height="5.10" fill="#5b9bd5" />
<rect x="400.91" y="324.65" width="12.45" height="5.10" fill="#5b9bd5" />
<rect x="414.26" y="324.65" width="12.45" height="5.10" fill="#5b9bd5" />
<rect x="427.61" y="324.65" width="12.45" height="5.10" fill="#5b9bd5" />
<rect x="454.31" y="324.65" width="12.45" height="5.10" fill="#5b9bd5" />
<text x="470.30" y="328.75" font-size="6.8" text-anchor="start" fill="#222222" stroke="#222222" stroke-width="0.12" >FOXN3</text>
<rect x="267.42" y="330.88" width="12.45" height="5.10" fill="#5b9bd5" />
<rect x="294.12" y="330.88" width="12.45" height="5.10" fill="#5b9bd5" />
<rect x="320.82" y="330.88" width="12.45" height="5.10" fill="#5b9bd5" />
<rect x="334.17" y="330.88" width="12.45" height="5.10" fill="#5b9bd5" />
<rect x="347.51" y="330.88" width="12.45" height="5.10" fill="#5b9bd5" />
<rect x="360.86" y="330.88" width="12.45" height="5.10" fill="#5b9bd5" />
<rect x="374.21" y="330.88" width="12.45" height="5.10" fill="#5b9bd5" />
<rect x="387.56" y="330.88" width="12.45" height="5.10" fill="#5b9bd5" />
<rect x="400.91" y="330.88" width="12.45" height="5.10" fill="#5b9bd5" />
<rect x="414.26" y="330.88" width="12.45" height="5.10" fill="#5b9bd5" />
<rect x="427.61" y="330.88" width="12.45" height="5.10" fill="#5b9bd5" />
<rect x="440.96" y="330.88" width="12.45" height="5.10" fill="#5b9bd5" />
<rect x="454.31" y="330.88" width="12.45" height="5.10" fill="#5b9bd5" />
<text x="470.30" y="334.98" font-size="6.8" text-anchor="start" fill="#222222" stroke="#222222" stroke-width="0.12" >KLF2</text>
<rect x="267.42" y="337.11" width="12.45" height="5.10" fill="#5b9bd5" />
<rect x="307.47" y="337.11" width="12.45" height="5.10" fill="#5b9bd5" />
<rect x="347.51" y="337.11" width="12.45" height="5.10" fill="#5b9bd5" />
<rect x="360.86" y="337.11" width="12.45" height="5.10" fill="#5b9bd5" />
<rect x="387.56" y="337.11" width="12.45" height="5.10" fill="#5b9bd5" />
<rect x="400.91" y="337.11" width="12.45" height="5.10" fill="#5b9bd5" />
<rect x="414.26" y="337.11" width="12.45" height="5.10" fill="#5b9bd5" />
<rect x="427.61" y="337.11" width="12.45" height="5.10" fill="#5b9bd5" />
<rect x="454.31" y="337.11" width="12.45" height="5.10" fill="#5b9bd5" />
<text x="470.30" y="341.21" font-size="6.8" text-anchor="start" fill="#222222" stroke="#222222" stroke-width="0.12" >CIC</text>
<rect x="267.42" y="343.34" width="12.45" height="5.10" fill="#5b9bd5" />
<rect x="280.77" y="343.34" width="12.45" height="5.10" fill="#5b9bd5" />
<rect x="320.82" y="343.34" width="12.45" height="5.10" fill="#5b9bd5" />
<rect x="334.17" y="343.34" width="12.45" height="5.10" fill="#5b9bd5" />
<rect x="347.51" y="343.34" width="12.45" height="5.10" fill="#5b9bd5" />
<rect x="360.86" y="343.34" width="12.45" height="5.10" fill="#5b9bd5" />
<rect x="374.21" y="343.34" width="12.45" height="5.10" fill="#5b9bd5" />
<rect x="387.56" y="343.34" width="12.45" height="5.10" fill="#5b9bd5" />
<rect x="400.91" y="343.34" width="12.45" height="5.10" fill="#5b9bd5" />
<rect x="414.26" y="343.34" width="12.45" height="5.10" fill="#5b9bd5" />
<rect x="427.61" y="343.34" width="12.45" height="5.10" fill="#5b9bd5" />
<rect x="440.96" y="343.34" width="12.45" height="5.10" fill="#5b9bd5" />
<rect x="454.31" y="343.34" width="12.45" height="5.10" fill="#5b9bd5" />
<text x="470.30" y="347.44" font-size="6.8" text-anchor="start" fill="#222222" stroke="#222222" stroke-width="0.12" >ZFP36L2</text>
<rect x="267.42" y="349.56" width="12.45" height="5.10" fill="#5b9bd5" />
<rect x="280.77" y="349.56" width="12.45" height="5.10" fill="#5b9bd5" />
<rect x="320.82" y="349.56" width="12.45" height="5.10" fill="#5b9bd5" />
<rect x="334.17" y="349.56" width="12.45" height="5.10" fill="#5b9bd5" />
<rect x="347.51" y="349.56" width="12.45" height="5.10" fill="#5b9bd5" />
<rect x="360.86" y="349.56" width="12.45" height="5.10" fill="#5b9bd5" />
<rect x="374.21" y="349.56" width="12.45" height="5.10" fill="#5b9bd5" />
<rect x="387.56" y="349.56" width="12.45" height="5.10" fill="#5b9bd5" />
<rect x="400.91" y="349.56" width="12.45" height="5.10" fill="#5b9bd5" />
<rect x="414.26" y="349.56" width="12.45" height="5.10" fill="#5b9bd5" />
<rect x="427.61" y="349.56" width="12.45" height="5.10" fill="#5b9bd5" />
<rect x="440.96" y="349.56" width="12.45" height="5.10" fill="#5b9bd5" />
<text x="470.30" y="353.66" font-size="6.8" text-anchor="start" fill="#222222" stroke="#222222" stroke-width="0.12" >RARA</text>
<rect x="267.42" y="355.79" width="12.45" height="5.10" fill="#5b9bd5" />
<rect x="320.82" y="355.79" width="12.45" height="5.10" fill="#5b9bd5" />
<rect x="334.17" y="355.79" width="12.45" height="5.10" fill="#5b9bd5" />
<rect x="347.51" y="355.79" width="12.45" height="5.10" fill="#5b9bd5" />
<rect x="360.86" y="355.79" width="12.45" height="5.10" fill="#5b9bd5" />
<rect x="374.21" y="355.79" width="12.45" height="5.10" fill="#5b9bd5" />
<rect x="387.56" y="355.79" width="12.45" height="5.10" fill="#5b9bd5" />
<rect x="400.91" y="355.79" width="12.45" height="5.10" fill="#5b9bd5" />
<rect x="414.26" y="355.79" width="12.45" height="5.10" fill="#5b9bd5" />
<rect x="427.61" y="355.79" width="12.45" height="5.10" fill="#5b9bd5" />
<rect x="440.96" y="355.79" width="12.45" height="5.10" fill="#5b9bd5" />
<rect x="454.31" y="355.79" width="12.45" height="5.10" fill="#5b9bd5" />
<text x="470.30" y="359.89" font-size="6.8" text-anchor="start" fill="#222222" stroke="#222222" stroke-width="0.12" >MEF2C</text>
<rect x="267.42" y="362.02" width="12.45" height="5.10" fill="#5b9bd5" />
<rect x="320.82" y="362.02" width="12.45" height="5.10" fill="#5b9bd5" />
<rect x="334.17" y="362.02" width="12.45" height="5.10" fill="#5b9bd5" />
<rect x="347.51" y="362.02" width="12.45" height="5.10" fill="#5b9bd5" />
<rect x="360.86" y="362.02" width="12.45" height="5.10" fill="#5b9bd5" />
<rect x="374.21" y="362.02" width="12.45" height="5.10" fill="#5b9bd5" />
<rect x="387.56" y="362.02" width="12.45" height="5.10" fill="#5b9bd5" />
<rect x="400.91" y="362.02" width="12.45" height="5.10" fill="#5b9bd5" />
<rect x="414.26" y="362.02" width="12.45" height="5.10" fill="#5b9bd5" />
<rect x="427.61" y="362.02" width="12.45" height="5.10" fill="#5b9bd5" />
<rect x="440.96" y="362.02" width="12.45" height="5.10" fill="#5b9bd5" />
<rect x="454.31" y="362.02" width="12.45" height="5.10" fill="#5b9bd5" />
<text x="470.30" y="366.12" font-size="6.8" text-anchor="start" fill="#222222" stroke="#222222" stroke-width="0.12" >KLF6</text>
<rect x="267.42" y="368.25" width="12.45" height="5.10" fill="#5b9bd5" />
<rect x="320.82" y="368.25" width="12.45" height="5.10" fill="#5b9bd5" />
<rect x="334.17" y="368.25" width="12.45" height="5.10" fill="#5b9bd5" />
<rect x="347.51" y="368.25" width="12.45" height="5.10" fill="#5b9bd5" />
<rect x="360.86" y="368.25" width="12.45" height="5.10" fill="#5b9bd5" />
<rect x="374.21" y="368.25" width="12.45" height="5.10" fill="#5b9bd5" />
<rect x="387.56" y="368.25" width="12.45" height="5.10" fill="#5b9bd5" />
<rect x="400.91" y="368.25" width="12.45" height="5.10" fill="#5b9bd5" />
<rect x="414.26" y="368.25" width="12.45" height="5.10" fill="#5b9bd5" />
<rect x="427.61" y="368.25" width="12.45" height="5.10" fill="#5b9bd5" />
<rect x="440.96" y="368.25" width="12.45" height="5.10" fill="#5b9bd5" />
<rect x="454.31" y="368.25" width="12.45" height="5.10" fill="#5b9bd5" />
<text x="470.30" y="372.35" font-size="6.8" text-anchor="start" fill="#222222" stroke="#222222" stroke-width="0.12" >KLF9</text>
<rect x="267.42" y="374.48" width="12.45" height="5.10" fill="#5b9bd5" />
<rect x="320.82" y="374.48" width="12.45" height="5.10" fill="#5b9bd5" />
<rect x="334.17" y="374.48" width="12.45" height="5.10" fill="#5b9bd5" />
<rect x="360.86" y="374.48" width="12.45" height="5.10" fill="#5b9bd5" />
<rect x="374.21" y="374.48" width="12.45" height="5.10" fill="#5b9bd5" />
<rect x="400.91" y="374.48" width="12.45" height="5.10" fill="#5b9bd5" />
<rect x="414.26" y="374.48" width="12.45" height="5.10" fill="#5b9bd5" />
<rect x="427.61" y="374.48" width="12.45" height="5.10" fill="#5b9bd5" />
<rect x="440.96" y="374.48" width="12.45" height="5.10" fill="#5b9bd5" />
<rect x="454.31" y="374.48" width="12.45" height="5.10" fill="#5b9bd5" />
<text x="470.30" y="378.58" font-size="6.8" text-anchor="start" fill="#222222" stroke="#222222" stroke-width="0.12" >IKZF1</text>
<rect x="267.42" y="380.70" width="12.45" height="5.10" fill="#5b9bd5" />
<rect x="334.17" y="380.70" width="12.45" height="5.10" fill="#5b9bd5" />
<rect x="347.51" y="380.70" width="12.45" height="5.10" fill="#5b9bd5" />
<rect x="360.86" y="380.70" width="12.45" height="5.10" fill="#5b9bd5" />
<rect x="374.21" y="380.70" width="12.45" height="5.10" fill="#5b9bd5" />
<rect x="387.56" y="380.70" width="12.45" height="5.10" fill="#5b9bd5" />
<rect x="414.26" y="380.70" width="12.45" height="5.10" fill="#5b9bd5" />
<rect x="427.61" y="380.70" width="12.45" height="5.10" fill="#5b9bd5" />
<rect x="454.31" y="380.70" width="12.45" height="5.10" fill="#5b9bd5" />
<text x="470.30" y="384.80" font-size="6.8" text-anchor="start" fill="#222222" stroke="#222222" stroke-width="0.12" >FOSB</text>
<rect x="267.42" y="386.93" width="12.45" height="5.10" fill="#5b9bd5" />
<rect x="347.51" y="386.93" width="12.45" height="5.10" fill="#5b9bd5" />
<rect x="360.86" y="386.93" width="12.45" height="5.10" fill="#5b9bd5" />
<rect x="374.21" y="386.93" width="12.45" height="5.10" fill="#5b9bd5" />
<rect x="387.56" y="386.93" width="12.45" height="5.10" fill="#5b9bd5" />
<rect x="400.91" y="386.93" width="12.45" height="5.10" fill="#5b9bd5" />
<rect x="414.26" y="386.93" width="12.45" height="5.10" fill="#5b9bd5" />
<rect x="427.61" y="386.93" width="12.45" height="5.10" fill="#5b9bd5" />
<rect x="440.96" y="386.93" width="12.45" height="5.10" fill="#5b9bd5" />
<text x="470.30" y="391.03" font-size="6.8" text-anchor="start" fill="#222222" stroke="#222222" stroke-width="0.12" >LARP1</text>
<rect x="267.42" y="393.16" width="12.45" height="5.10" fill="#5b9bd5" />
<rect x="320.82" y="393.16" width="12.45" height="5.10" fill="#5b9bd5" />
<rect x="334.17" y="393.16" width="12.45" height="5.10" fill="#5b9bd5" />
<rect x="387.56" y="393.16" width="12.45" height="5.10" fill="#5b9bd5" />
<rect x="400.91" y="393.16" width="12.45" height="5.10" fill="#5b9bd5" />
<rect x="414.26" y="393.16" width="12.45" height="5.10" fill="#5b9bd5" />
<rect x="427.61" y="393.16" width="12.45" height="5.10" fill="#5b9bd5" />
<rect x="440.96" y="393.16" width="12.45" height="5.10" fill="#5b9bd5" />
<rect x="454.31" y="393.16" width="12.45" height="5.10" fill="#5b9bd5" />
<text x="470.30" y="397.26" font-size="6.8" text-anchor="start" fill="#222222" stroke="#222222" stroke-width="0.12" >ZNF217</text>
<rect x="294.12" y="399.39" width="12.45" height="5.10" fill="#5b9bd5" />
<rect x="307.47" y="399.39" width="12.45" height="5.10" fill="#5b9bd5" />
<rect x="320.82" y="399.39" width="12.45" height="5.10" fill="#5b9bd5" />
<rect x="334.17" y="399.39" width="12.45" height="5.10" fill="#5b9bd5" />
<rect x="347.51" y="399.39" width="12.45" height="5.10" fill="#5b9bd5" />
<rect x="360.86" y="399.39" width="12.45" height="5.10" fill="#5b9bd5" />
<rect x="374.21" y="399.39" width="12.45" height="5.10" fill="#5b9bd5" />
<rect x="387.56" y="399.39" width="12.45" height="5.10" fill="#5b9bd5" />
<rect x="400.91" y="399.39" width="12.45" height="5.10" fill="#5b9bd5" />
<rect x="414.26" y="399.39" width="12.45" height="5.10" fill="#5b9bd5" />
<rect x="427.61" y="399.39" width="12.45" height="5.10" fill="#5b9bd5" />
<rect x="440.96" y="399.39" width="12.45" height="5.10" fill="#5b9bd5" />
<rect x="454.31" y="399.39" width="12.45" height="5.10" fill="#5b9bd5" />
<text x="470.30" y="403.49" font-size="6.8" text-anchor="start" fill="#222222" stroke="#222222" stroke-width="0.12" >PRDM1</text>
<rect x="294.12" y="405.62" width="12.45" height="5.10" fill="#5b9bd5" />
<rect x="307.47" y="405.62" width="12.45" height="5.10" fill="#5b9bd5" />
<rect x="320.82" y="405.62" width="12.45" height="5.10" fill="#5b9bd5" />
<rect x="334.17" y="405.62" width="12.45" height="5.10" fill="#5b9bd5" />
<rect x="347.51" y="405.62" width="12.45" height="5.10" fill="#5b9bd5" />
<rect x="360.86" y="405.62" width="12.45" height="5.10" fill="#5b9bd5" />
<rect x="374.21" y="405.62" width="12.45" height="5.10" fill="#5b9bd5" />
<rect x="387.56" y="405.62" width="12.45" height="5.10" fill="#5b9bd5" />
<rect x="400.91" y="405.62" width="12.45" height="5.10" fill="#5b9bd5" />
<rect x="414.26" y="405.62" width="12.45" height="5.10" fill="#5b9bd5" />
<rect x="427.61" y="405.62" width="12.45" height="5.10" fill="#5b9bd5" />
<rect x="440.96" y="405.62" width="12.45" height="5.10" fill="#5b9bd5" />
<rect x="454.31" y="405.62" width="12.45" height="5.10" fill="#5b9bd5" />
<text x="470.30" y="409.72" font-size="6.8" text-anchor="start" fill="#222222" stroke="#222222" stroke-width="0.12" >FLI1</text>
<rect x="294.12" y="411.84" width="12.45" height="5.10" fill="#5b9bd5" />
<rect x="307.47" y="411.84" width="12.45" height="5.10" fill="#5b9bd5" />
<rect x="320.82" y="411.84" width="12.45" height="5.10" fill="#5b9bd5" />
<rect x="334.17" y="411.84" width="12.45" height="5.10" fill="#5b9bd5" />
<rect x="347.51" y="411.84" width="12.45" height="5.10" fill="#5b9bd5" />
<rect x="360.86" y="411.84" width="12.45" height="5.10" fill="#5b9bd5" />
<rect x="374.21" y="411.84" width="12.45" height="5.10" fill="#5b9bd5" />
<rect x="400.91" y="411.84" width="12.45" height="5.10" fill="#5b9bd5" />
<rect x="414.26" y="411.84" width="12.45" height="5.10" fill="#5b9bd5" />
<rect x="427.61" y="411.84" width="12.45" height="5.10" fill="#5b9bd5" />
<rect x="440.96" y="411.84" width="12.45" height="5.10" fill="#5b9bd5" />
<rect x="454.31" y="411.84" width="12.45" height="5.10" fill="#5b9bd5" />
<text x="470.30" y="415.94" font-size="6.8" text-anchor="start" fill="#222222" stroke="#222222" stroke-width="0.12" >IRF2</text>
<rect x="294.12" y="418.07" width="12.45" height="5.10" fill="#5b9bd5" />
<rect x="307.47" y="418.07" width="12.45" height="5.10" fill="#5b9bd5" />
<rect x="320.82" y="418.07" width="12.45" height="5.10" fill="#5b9bd5" />
<rect x="334.17" y="418.07" width="12.45" height="5.10" fill="#5b9bd5" />
<rect x="347.51" y="418.07" width="12.45" height="5.10" fill="#5b9bd5" />
<rect x="374.21" y="418.07" width="12.45" height="5.10" fill="#5b9bd5" />
<rect x="387.56" y="418.07" width="12.45" height="5.10" fill="#5b9bd5" />
<rect x="414.26" y="418.07" width="12.45" height="5.10" fill="#5b9bd5" />
<rect x="427.61" y="418.07" width="12.45" height="5.10" fill="#5b9bd5" />
<rect x="440.96" y="418.07" width="12.45" height="5.10" fill="#5b9bd5" />
<rect x="454.31" y="418.07" width="12.45" height="5.10" fill="#5b9bd5" />
<text x="470.30" y="422.17" font-size="6.8" text-anchor="start" fill="#222222" stroke="#222222" stroke-width="0.12" >XBP1</text>
<rect x="294.12" y="424.30" width="12.45" height="5.10" fill="#5b9bd5" />
<rect x="307.47" y="424.30" width="12.45" height="5.10" fill="#5b9bd5" />
<rect x="347.51" y="424.30" width="12.45" height="5.10" fill="#5b9bd5" />
<rect x="360.86" y="424.30" width="12.45" height="5.10" fill="#5b9bd5" />
<rect x="374.21" y="424.30" width="12.45" height="5.10" fill="#5b9bd5" />
<rect x="387.56" y="424.30" width="12.45" height="5.10" fill="#5b9bd5" />
<rect x="400.91" y="424.30" width="12.45" height="5.10" fill="#5b9bd5" />
<rect x="414.26" y="424.30" width="12.45" height="5.10" fill="#5b9bd5" />
<rect x="427.61" y="424.30" width="12.45" height="5.10" fill="#5b9bd5" />
<rect x="440.96" y="424.30" width="12.45" height="5.10" fill="#5b9bd5" />
<rect x="454.31" y="424.30" width="12.45" height="5.10" fill="#5b9bd5" />
<text x="470.30" y="428.40" font-size="6.8" text-anchor="start" fill="#222222" stroke="#222222" stroke-width="0.12" >IRF1</text>
<rect x="294.12" y="430.53" width="12.45" height="5.10" fill="#5b9bd5" />
<rect x="307.47" y="430.53" width="12.45" height="5.10" fill="#5b9bd5" />
<rect x="320.82" y="430.53" width="12.45" height="5.10" fill="#5b9bd5" />
<rect x="334.17" y="430.53" width="12.45" height="5.10" fill="#5b9bd5" />
<rect x="347.51" y="430.53" width="12.45" height="5.10" fill="#5b9bd5" />
<rect x="374.21" y="430.53" width="12.45" height="5.10" fill="#5b9bd5" />
<rect x="400.91" y="430.53" width="12.45" height="5.10" fill="#5b9bd5" />
<rect x="414.26" y="430.53" width="12.45" height="5.10" fill="#5b9bd5" />
<rect x="427.61" y="430.53" width="12.45" height="5.10" fill="#5b9bd5" />
<rect x="440.96" y="430.53" width="12.45" height="5.10" fill="#5b9bd5" />
<rect x="454.31" y="430.53" width="12.45" height="5.10" fill="#5b9bd5" />
<text x="470.30" y="434.63" font-size="6.8" text-anchor="start" fill="#222222" stroke="#222222" stroke-width="0.12" >NCOA3</text>
<rect x="294.12" y="436.76" width="12.45" height="5.10" fill="#5b9bd5" />
<rect x="307.47" y="436.76" width="12.45" height="5.10" fill="#5b9bd5" />
<rect x="320.82" y="436.76" width="12.45" height="5.10" fill="#5b9bd5" />
<rect x="334.17" y="436.76" width="12.45" height="5.10" fill="#5b9bd5" />
<rect x="347.51" y="436.76" width="12.45" height="5.10" fill="#5b9bd5" />
<rect x="360.86" y="436.76" width="12.45" height="5.10" fill="#5b9bd5" />
<rect x="400.91" y="436.76" width="12.45" height="5.10" fill="#5b9bd5" />
<rect x="414.26" y="436.76" width="12.45" height="5.10" fill="#5b9bd5" />
<rect x="427.61" y="436.76" width="12.45" height="5.10" fill="#5b9bd5" />
<rect x="440.96" y="436.76" width="12.45" height="5.10" fill="#5b9bd5" />
<rect x="454.31" y="436.76" width="12.45" height="5.10" fill="#5b9bd5" />
<text x="470.30" y="440.86" font-size="6.8" text-anchor="start" fill="#222222" stroke="#222222" stroke-width="0.12" >RREB1</text>
<rect x="294.12" y="442.98" width="12.45" height="5.10" fill="#5b9bd5" />
<rect x="307.47" y="442.98" width="12.45" height="5.10" fill="#5b9bd5" />
<rect x="320.82" y="442.98" width="12.45" height="5.10" fill="#5b9bd5" />
<rect x="360.86" y="442.98" width="12.45" height="5.10" fill="#5b9bd5" />
<rect x="374.21" y="442.98" width="12.45" height="5.10" fill="#5b9bd5" />
<rect x="400.91" y="442.98" width="12.45" height="5.10" fill="#5b9bd5" />
<rect x="414.26" y="442.98" width="12.45" height="5.10" fill="#5b9bd5" />
<rect x="427.61" y="442.98" width="12.45" height="5.10" fill="#5b9bd5" />
<rect x="440.96" y="442.98" width="12.45" height="5.10" fill="#5b9bd5" />
<rect x="454.31" y="442.98" width="12.45" height="5.10" fill="#5b9bd5" />
<text x="470.30" y="447.08" font-size="6.8" text-anchor="start" fill="#222222" stroke="#222222" stroke-width="0.12" >FOXO3</text>
<rect x="294.12" y="449.21" width="12.45" height="5.10" fill="#5b9bd5" />
<rect x="307.47" y="449.21" width="12.45" height="5.10" fill="#5b9bd5" />
<rect x="320.82" y="449.21" width="12.45" height="5.10" fill="#5b9bd5" />
<rect x="334.17" y="449.21" width="12.45" height="5.10" fill="#5b9bd5" />
<rect x="347.51" y="449.21" width="12.45" height="5.10" fill="#5b9bd5" />
<rect x="414.26" y="449.21" width="12.45" height="5.10" fill="#5b9bd5" />
<rect x="427.61" y="449.21" width="12.45" height="5.10" fill="#5b9bd5" />
<rect x="440.96" y="449.21" width="12.45" height="5.10" fill="#5b9bd5" />
<rect x="454.31" y="449.21" width="12.45" height="5.10" fill="#5b9bd5" />
<text x="470.30" y="453.31" font-size="6.8" text-anchor="start" fill="#222222" stroke="#222222" stroke-width="0.12" >AFF1</text>
<rect x="294.12" y="455.44" width="12.45" height="5.10" fill="#5b9bd5" />
<rect x="307.47" y="455.44" width="12.45" height="5.10" fill="#5b9bd5" />
<rect x="320.82" y="455.44" width="12.45" height="5.10" fill="#5b9bd5" />
<rect x="387.56" y="455.44" width="12.45" height="5.10" fill="#5b9bd5" />
<rect x="400.91" y="455.44" width="12.45" height="5.10" fill="#5b9bd5" />
<rect x="414.26" y="455.44" width="12.45" height="5.10" fill="#5b9bd5" />
<rect x="427.61" y="455.44" width="12.45" height="5.10" fill="#5b9bd5" />
<rect x="454.31" y="455.44" width="12.45" height="5.10" fill="#5b9bd5" />
<text x="470.30" y="459.54" font-size="6.8" text-anchor="start" fill="#222222" stroke="#222222" stroke-width="0.12" >MYBL2</text>
<rect x="307.47" y="461.67" width="12.45" height="5.10" fill="#5b9bd5" />
<rect x="334.17" y="461.67" width="12.45" height="5.10" fill="#5b9bd5" />
<rect x="347.51" y="461.67" width="12.45" height="5.10" fill="#5b9bd5" />
<rect x="360.86" y="461.67" width="12.45" height="5.10" fill="#5b9bd5" />
<rect x="374.21" y="461.67" width="12.45" height="5.10" fill="#5b9bd5" />
<rect x="387.56" y="461.67" width="12.45" height="5.10" fill="#5b9bd5" />
<rect x="400.91" y="461.67" width="12.45" height="5.10" fill="#5b9bd5" />
<rect x="414.26" y="461.67" width="12.45" height="5.10" fill="#5b9bd5" />
<rect x="427.61" y="461.67" width="12.45" height="5.10" fill="#5b9bd5" />
<rect x="440.96" y="461.67" width="12.45" height="5.10" fill="#5b9bd5" />
<rect x="454.31" y="461.67" width="12.45" height="5.10" fill="#5b9bd5" />
<text x="470.30" y="465.77" font-size="6.8" text-anchor="start" fill="#222222" stroke="#222222" stroke-width="0.12" >ZBTB7A</text>
<rect x="307.47" y="467.90" width="12.45" height="5.10" fill="#5b9bd5" />
<rect x="334.17" y="467.90" width="12.45" height="5.10" fill="#5b9bd5" />
<rect x="360.86" y="467.90" width="12.45" height="5.10" fill="#5b9bd5" />
<rect x="374.21" y="467.90" width="12.45" height="5.10" fill="#5b9bd5" />
<rect x="387.56" y="467.90" width="12.45" height="5.10" fill="#5b9bd5" />
<rect x="414.26" y="467.90" width="12.45" height="5.10" fill="#5b9bd5" />
<rect x="427.61" y="467.90" width="12.45" height="5.10" fill="#5b9bd5" />
<rect x="454.31" y="467.90" width="12.45" height="5.10" fill="#5b9bd5" />
<text x="470.30" y="472.00" font-size="6.8" text-anchor="start" fill="#222222" stroke="#222222" stroke-width="0.12" >POU2F2</text>
<rect x="307.47" y="474.12" width="12.45" height="5.10" fill="#5b9bd5" />
<rect x="320.82" y="474.12" width="12.45" height="5.10" fill="#5b9bd5" />
<rect x="334.17" y="474.12" width="12.45" height="5.10" fill="#5b9bd5" />
<rect x="347.51" y="474.12" width="12.45" height="5.10" fill="#5b9bd5" />
<rect x="360.86" y="474.12" width="12.45" height="5.10" fill="#5b9bd5" />
<rect x="414.26" y="474.12" width="12.45" height="5.10" fill="#5b9bd5" />
<rect x="427.61" y="474.12" width="12.45" height="5.10" fill="#5b9bd5" />
<rect x="454.31" y="474.12" width="12.45" height="5.10" fill="#5b9bd5" />
<text x="470.30" y="478.22" font-size="6.8" text-anchor="start" fill="#222222" stroke="#222222" stroke-width="0.12" >PPP1R10</text>
<rect x="294.12" y="480.35" width="12.45" height="5.10" fill="#5b9bd5" />
<rect x="320.82" y="480.35" width="12.45" height="5.10" fill="#5b9bd5" />
<rect x="334.17" y="480.35" width="12.45" height="5.10" fill="#5b9bd5" />
<rect x="374.21" y="480.35" width="12.45" height="5.10" fill="#5b9bd5" />
<rect x="427.61" y="480.35" width="12.45" height="5.10" fill="#5b9bd5" />
<rect x="440.96" y="480.35" width="12.45" height="5.10" fill="#5b9bd5" />
<rect x="454.31" y="480.35" width="12.45" height="5.10" fill="#5b9bd5" />
<text x="470.30" y="484.45" font-size="6.8" text-anchor="start" fill="#222222" stroke="#222222" stroke-width="0.12" >ELK3</text>
<rect x="307.47" y="486.58" width="12.45" height="5.10" fill="#5b9bd5" />
<rect x="347.51" y="486.58" width="12.45" height="5.10" fill="#5b9bd5" />
<rect x="374.21" y="486.58" width="12.45" height="5.10" fill="#5b9bd5" />
<rect x="400.91" y="486.58" width="12.45" height="5.10" fill="#5b9bd5" />
<rect x="414.26" y="486.58" width="12.45" height="5.10" fill="#5b9bd5" />
<rect x="427.61" y="486.58" width="12.45" height="5.10" fill="#5b9bd5" />
<rect x="440.96" y="486.58" width="12.45" height="5.10" fill="#5b9bd5" />
<text x="470.30" y="490.68" font-size="6.8" text-anchor="start" fill="#222222" stroke="#222222" stroke-width="0.12" >ZBTB7B</text>
<rect x="320.82" y="492.81" width="12.45" height="5.10" fill="#5b9bd5" />
<rect x="334.17" y="492.81" width="12.45" height="5.10" fill="#5b9bd5" />
<rect x="347.51" y="492.81" width="12.45" height="5.10" fill="#5b9bd5" />
<rect x="360.86" y="492.81" width="12.45" height="5.10" fill="#5b9bd5" />
<rect x="374.21" y="492.81" width="12.45" height="5.10" fill="#5b9bd5" />
<rect x="387.56" y="492.81" width="12.45" height="5.10" fill="#5b9bd5" />
<rect x="400.91" y="492.81" width="12.45" height="5.10" fill="#5b9bd5" />
<rect x="414.26" y="492.81" width="12.45" height="5.10" fill="#5b9bd5" />
<rect x="427.61" y="492.81" width="12.45" height="5.10" fill="#5b9bd5" />
<rect x="440.96" y="492.81" width="12.45" height="5.10" fill="#5b9bd5" />
<rect x="454.31" y="492.81" width="12.45" height="5.10" fill="#5b9bd5" />
<text x="470.30" y="496.91" font-size="6.8" text-anchor="start" fill="#222222" stroke="#222222" stroke-width="0.12" >IRF4</text>
<rect x="320.82" y="499.04" width="12.45" height="5.10" fill="#5b9bd5" />
<rect x="334.17" y="499.04" width="12.45" height="5.10" fill="#5b9bd5" />
<rect x="347.51" y="499.04" width="12.45" height="5.10" fill="#5b9bd5" />
<rect x="360.86" y="499.04" width="12.45" height="5.10" fill="#5b9bd5" />
<rect x="374.21" y="499.04" width="12.45" height="5.10" fill="#5b9bd5" />
<rect x="387.56" y="499.04" width="12.45" height="5.10" fill="#5b9bd5" />
<rect x="414.26" y="499.04" width="12.45" height="5.10" fill="#5b9bd5" />
<rect x="427.61" y="499.04" width="12.45" height="5.10" fill="#5b9bd5" />
<rect x="440.96" y="499.04" width="12.45" height="5.10" fill="#5b9bd5" />
<rect x="454.31" y="499.04" width="12.45" height="5.10" fill="#5b9bd5" />
<text x="470.30" y="503.14" font-size="6.8" text-anchor="start" fill="#222222" stroke="#222222" stroke-width="0.12" >CREB3L2</text>
<rect x="320.82" y="505.26" width="12.45" height="5.10" fill="#5b9bd5" />
<rect x="334.17" y="505.26" width="12.45" height="5.10" fill="#5b9bd5" />
<rect x="347.51" y="505.26" width="12.45" height="5.10" fill="#5b9bd5" />
<rect x="360.86" y="505.26" width="12.45" height="5.10" fill="#5b9bd5" />
<rect x="374.21" y="505.26" width="12.45" height="5.10" fill="#5b9bd5" />
<rect x="387.56" y="505.26" width="12.45" height="5.10" fill="#5b9bd5" />
<rect x="400.91" y="505.26" width="12.45" height="5.10" fill="#5b9bd5" />
<rect x="414.26" y="505.26" width="12.45" height="5.10" fill="#5b9bd5" />
<rect x="427.61" y="505.26" width="12.45" height="5.10" fill="#5b9bd5" />
<rect x="454.31" y="505.26" width="12.45" height="5.10" fill="#5b9bd5" />
<text x="470.30" y="509.36" font-size="6.8" text-anchor="start" fill="#222222" stroke="#222222" stroke-width="0.12" >MLLT3</text>
<rect x="320.82" y="511.49" width="12.45" height="5.10" fill="#5b9bd5" />
<rect x="334.17" y="511.49" width="12.45" height="5.10" fill="#5b9bd5" />
<rect x="347.51" y="511.49" width="12.45" height="5.10" fill="#5b9bd5" />
<rect x="360.86" y="511.49" width="12.45" height="5.10" fill="#5b9bd5" />
<rect x="374.21" y="511.49" width="12.45" height="5.10" fill="#5b9bd5" />
<rect x="387.56" y="511.49" width="12.45" height="5.10" fill="#5b9bd5" />
<rect x="400.91" y="511.49" width="12.45" height="5.10" fill="#5b9bd5" />
<rect x="414.26" y="511.49" width="12.45" height="5.10" fill="#5b9bd5" />
<rect x="427.61" y="511.49" width="12.45" height="5.10" fill="#5b9bd5" />
<rect x="454.31" y="511.49" width="12.45" height="5.10" fill="#5b9bd5" />
<text x="470.30" y="515.59" font-size="6.8" text-anchor="start" fill="#222222" stroke="#222222" stroke-width="0.12" >NR1D1</text>
<rect x="320.82" y="517.72" width="12.45" height="5.10" fill="#5b9bd5" />
<rect x="334.17" y="517.72" width="12.45" height="5.10" fill="#5b9bd5" />
<rect x="347.51" y="517.72" width="12.45" height="5.10" fill="#5b9bd5" />
<rect x="374.21" y="517.72" width="12.45" height="5.10" fill="#5b9bd5" />
<rect x="387.56" y="517.72" width="12.45" height="5.10" fill="#5b9bd5" />
<rect x="414.26" y="517.72" width="12.45" height="5.10" fill="#5b9bd5" />
<rect x="427.61" y="517.72" width="12.45" height="5.10" fill="#5b9bd5" />
<rect x="440.96" y="517.72" width="12.45" height="5.10" fill="#5b9bd5" />
<rect x="454.31" y="517.72" width="12.45" height="5.10" fill="#5b9bd5" />
<text x="470.30" y="521.82" font-size="6.8" text-anchor="start" fill="#222222" stroke="#222222" stroke-width="0.12" >RUNX1</text>
<rect x="334.17" y="523.95" width="12.45" height="5.10" fill="#5b9bd5" />
<rect x="360.86" y="523.95" width="12.45" height="5.10" fill="#5b9bd5" />
<rect x="387.56" y="523.95" width="12.45" height="5.10" fill="#5b9bd5" />
<rect x="400.91" y="523.95" width="12.45" height="5.10" fill="#5b9bd5" />
<rect x="414.26" y="523.95" width="12.45" height="5.10" fill="#5b9bd5" />
<rect x="427.61" y="523.95" width="12.45" height="5.10" fill="#5b9bd5" />
<rect x="440.96" y="523.95" width="12.45" height="5.10" fill="#5b9bd5" />
<rect x="454.31" y="523.95" width="12.45" height="5.10" fill="#5b9bd5" />
<text x="470.30" y="528.05" font-size="6.8" text-anchor="start" fill="#222222" stroke="#222222" stroke-width="0.12" >MYC</text>
<rect x="320.82" y="530.18" width="12.45" height="5.10" fill="#5b9bd5" />
<rect x="334.17" y="530.18" width="12.45" height="5.10" fill="#5b9bd5" />
<rect x="347.51" y="530.18" width="12.45" height="5.10" fill="#5b9bd5" />
<rect x="360.86" y="530.18" width="12.45" height="5.10" fill="#5b9bd5" />
<rect x="374.21" y="530.18" width="12.45" height="5.10" fill="#5b9bd5" />
<rect x="414.26" y="530.18" width="12.45" height="5.10" fill="#5b9bd5" />
<rect x="427.61" y="530.18" width="12.45" height="5.10" fill="#5b9bd5" />
<rect x="454.31" y="530.18" width="12.45" height="5.10" fill="#5b9bd5" />
<text x="470.30" y="534.28" font-size="6.8" text-anchor="start" fill="#222222" stroke="#222222" stroke-width="0.12" >ZNF460</text>
<rect x="320.82" y="536.40" width="12.45" height="5.10" fill="#5b9bd5" />
<rect x="334.17" y="536.40" width="12.45" height="5.10" fill="#5b9bd5" />
<rect x="360.86" y="536.40" width="12.45" height="5.10" fill="#5b9bd5" />
<rect x="374.21" y="536.40" width="12.45" height="5.10" fill="#5b9bd5" />
<rect x="387.56" y="536.40" width="12.45" height="5.10" fill="#5b9bd5" />
<rect x="414.26" y="536.40" width="12.45" height="5.10" fill="#5b9bd5" />
<rect x="427.61" y="536.40" width="12.45" height="5.10" fill="#5b9bd5" />
<rect x="454.31" y="536.40" width="12.45" height="5.10" fill="#5b9bd5" />
<text x="470.30" y="540.50" font-size="6.8" text-anchor="start" fill="#222222" stroke="#222222" stroke-width="0.12" >SMAD7</text>
<rect x="320.82" y="542.63" width="12.45" height="5.10" fill="#5b9bd5" />
<rect x="334.17" y="542.63" width="12.45" height="5.10" fill="#5b9bd5" />
<rect x="347.51" y="542.63" width="12.45" height="5.10" fill="#5b9bd5" />
<rect x="387.56" y="542.63" width="12.45" height="5.10" fill="#5b9bd5" />
<rect x="414.26" y="542.63" width="12.45" height="5.10" fill="#5b9bd5" />
<rect x="427.61" y="542.63" width="12.45" height="5.10" fill="#5b9bd5" />
<rect x="440.96" y="542.63" width="12.45" height="5.10" fill="#5b9bd5" />
<text x="470.30" y="546.73" font-size="6.8" text-anchor="start" fill="#222222" stroke="#222222" stroke-width="0.12" >DEPDC6</text>
<rect x="320.82" y="548.86" width="12.45" height="5.10" fill="#5b9bd5" />
<rect x="347.51" y="548.86" width="12.45" height="5.10" fill="#5b9bd5" />
<rect x="360.86" y="548.86" width="12.45" height="5.10" fill="#5b9bd5" />
<rect x="374.21" y="548.86" width="12.45" height="5.10" fill="#5b9bd5" />
<rect x="400.91" y="548.86" width="12.45" height="5.10" fill="#5b9bd5" />
<rect x="427.61" y="548.86" width="12.45" height="5.10" fill="#5b9bd5" />
<rect x="454.31" y="548.86" width="12.45" height="5.10" fill="#5b9bd5" />
<text x="470.30" y="552.96" font-size="6.8" text-anchor="start" fill="#222222" stroke="#222222" stroke-width="0.12" >TSC22D3</text>
<rect x="334.17" y="555.09" width="12.45" height="5.10" fill="#5b9bd5" />
<rect x="347.51" y="555.09" width="12.45" height="5.10" fill="#5b9bd5" />
<rect x="400.91" y="555.09" width="12.45" height="5.10" fill="#5b9bd5" />
<rect x="414.26" y="555.09" width="12.45" height="5.10" fill="#5b9bd5" />
<rect x="427.61" y="555.09" width="12.45" height="5.10" fill="#5b9bd5" />
<rect x="440.96" y="555.09" width="12.45" height="5.10" fill="#5b9bd5" />
<text x="470.30" y="559.19" font-size="6.8" text-anchor="start" fill="#222222" stroke="#222222" stroke-width="0.12" >MXI1</text>
<rect x="334.17" y="561.32" width="12.45" height="5.10" fill="#5b9bd5" />
<rect x="374.21" y="561.32" width="12.45" height="5.10" fill="#5b9bd5" />
<rect x="414.26" y="561.32" width="12.45" height="5.10" fill="#5b9bd5" />
<rect x="427.61" y="561.32" width="12.45" height="5.10" fill="#5b9bd5" />
<rect x="440.96" y="561.32" width="12.45" height="5.10" fill="#5b9bd5" />
<rect x="454.31" y="561.32" width="12.45" height="5.10" fill="#5b9bd5" />
<text x="470.30" y="565.42" font-size="6.8" text-anchor="start" fill="#222222" stroke="#222222" stroke-width="0.12" >SP3</text>
<rect x="320.82" y="567.54" width="12.45" height="5.10" fill="#5b9bd5" />
<rect x="334.17" y="567.54" width="12.45" height="5.10" fill="#5b9bd5" />
<rect x="414.26" y="567.54" width="12.45" height="5.10" fill="#5b9bd5" />
<rect x="427.61" y="567.54" width="12.45" height="5.10" fill="#5b9bd5" />
<rect x="440.96" y="567.54" width="12.45" height="5.10" fill="#5b9bd5" />
<rect x="454.31" y="567.54" width="12.45" height="5.10" fill="#5b9bd5" />
<text x="470.30" y="571.64" font-size="6.8" text-anchor="start" fill="#222222" stroke="#222222" stroke-width="0.12" >SETBP1</text>
<rect x="320.82" y="573.77" width="12.45" height="5.10" fill="#5b9bd5" />
<rect x="334.17" y="573.77" width="12.45" height="5.10" fill="#5b9bd5" />
<rect x="374.21" y="573.77" width="12.45" height="5.10" fill="#5b9bd5" />
<rect x="414.26" y="573.77" width="12.45" height="5.10" fill="#5b9bd5" />
<rect x="427.61" y="573.77" width="12.45" height="5.10" fill="#5b9bd5" />
<rect x="440.96" y="573.77" width="12.45" height="5.10" fill="#5b9bd5" />
<text x="470.30" y="577.87" font-size="6.8" text-anchor="start" fill="#222222" stroke="#222222" stroke-width="0.12" >NCOR2</text>
<rect x="320.82" y="580.00" width="12.45" height="5.10" fill="#5b9bd5" />
<rect x="334.17" y="580.00" width="12.45" height="5.10" fill="#5b9bd5" />
<rect x="387.56" y="580.00" width="12.45" height="5.10" fill="#5b9bd5" />
<rect x="414.26" y="580.00" width="12.45" height="5.10" fill="#5b9bd5" />
<rect x="427.61" y="580.00" width="12.45" height="5.10" fill="#5b9bd5" />
<rect x="454.31" y="580.00" width="12.45" height="5.10" fill="#5b9bd5" />
<text x="470.30" y="584.10" font-size="6.8" text-anchor="start" fill="#222222" stroke="#222222" stroke-width="0.12" >RERE</text>
<rect x="320.82" y="586.23" width="12.45" height="5.10" fill="#5b9bd5" />
<rect x="334.17" y="586.23" width="12.45" height="5.10" fill="#5b9bd5" />
<rect x="414.26" y="586.23" width="12.45" height="5.10" fill="#5b9bd5" />
<rect x="427.61" y="586.23" width="12.45" height="5.10" fill="#5b9bd5" />
<rect x="440.96" y="586.23" width="12.45" height="5.10" fill="#5b9bd5" />
<rect x="454.31" y="586.23" width="12.45" height="5.10" fill="#5b9bd5" />
<text x="470.30" y="590.33" font-size="6.8" text-anchor="start" fill="#222222" stroke="#222222" stroke-width="0.12" >ZNF592</text>
<rect x="320.82" y="592.46" width="12.45" height="5.10" fill="#5b9bd5" />
<rect x="347.51" y="592.46" width="12.45" height="5.10" fill="#5b9bd5" />
<rect x="387.56" y="592.46" width="12.45" height="5.10" fill="#5b9bd5" />
<rect x="400.91" y="592.46" width="12.45" height="5.10" fill="#5b9bd5" />
<rect x="414.26" y="592.46" width="12.45" height="5.10" fill="#5b9bd5" />
<rect x="427.61" y="592.46" width="12.45" height="5.10" fill="#5b9bd5" />
<text x="470.30" y="596.56" font-size="6.8" text-anchor="start" fill="#222222" stroke="#222222" stroke-width="0.12" >FOXO1</text>
<rect x="334.17" y="598.68" width="12.45" height="5.10" fill="#5b9bd5" />
<rect x="374.21" y="598.68" width="12.45" height="5.10" fill="#5b9bd5" />
<rect x="414.26" y="598.68" width="12.45" height="5.10" fill="#5b9bd5" />
<rect x="427.61" y="598.68" width="12.45" height="5.10" fill="#5b9bd5" />
<rect x="440.96" y="598.68" width="12.45" height="5.10" fill="#5b9bd5" />
<rect x="454.31" y="598.68" width="12.45" height="5.10" fill="#5b9bd5" />
<text x="470.30" y="602.78" font-size="6.8" text-anchor="start" fill="#222222" stroke="#222222" stroke-width="0.12" >RFX3</text>
<rect x="320.82" y="604.91" width="12.45" height="5.10" fill="#5b9bd5" />
<rect x="360.86" y="604.91" width="12.45" height="5.10" fill="#5b9bd5" />
<rect x="387.56" y="604.91" width="12.45" height="5.10" fill="#5b9bd5" />
<rect x="414.26" y="604.91" width="12.45" height="5.10" fill="#5b9bd5" />
<rect x="427.61" y="604.91" width="12.45" height="5.10" fill="#5b9bd5" />
<rect x="454.31" y="604.91" width="12.45" height="5.10" fill="#5b9bd5" />
<text x="470.30" y="609.01" font-size="6.8" text-anchor="start" fill="#222222" stroke="#222222" stroke-width="0.12" >ZC3H3</text>
<line x1="265.50" y1="342.60" x2="468.00" y2="342.60" stroke="#15203a" stroke-width="1.3" stroke-dasharray="3.1 3.4" stroke-dashoffset="1.2" stroke-linecap="butt"/>
<line x1="265.50" y1="398.90" x2="468.00" y2="398.90" stroke="#15203a" stroke-width="1.3" stroke-dasharray="3.1 3.4" stroke-dashoffset="1.2" stroke-linecap="butt"/>
<line x1="265.50" y1="492.50" x2="468.00" y2="492.50" stroke="#15203a" stroke-width="1.3" stroke-dasharray="3.1 3.4" stroke-dashoffset="1.2" stroke-linecap="butt"/>
<line x1="250.60" y1="610.30" x2="469.00" y2="610.30" stroke="#222" stroke-width="1.1" stroke-linecap="butt"/>
<rect x="251.1" y="267.50" width="14.0" height="73.50" fill="white" stroke="#222" stroke-width="1.25"/>
<text x="261.20" y="307.00" font-size="10.2" text-anchor="middle" fill="#111" stroke="#111" stroke-width="0.15" font-weight="bold" transform="rotate(-90 261.20 307.00)" >Cluster I</text>
<rect x="251.1" y="342.70" width="14.0" height="56.60" fill="white" stroke="#222" stroke-width="1.25"/>
<text x="261.20" y="369.20" font-size="10.2" text-anchor="middle" fill="#111" stroke="#111" stroke-width="0.15" font-weight="bold" transform="rotate(-90 261.20 369.20)" >Cluster II</text>
<rect x="251.1" y="400.90" width="14.0" height="89.30" fill="white" stroke="#222" stroke-width="1.25"/>
<text x="261.20" y="444.00" font-size="10.2" text-anchor="middle" fill="#111" stroke="#111" stroke-width="0.15" font-weight="bold" transform="rotate(-90 261.20 444.00)" >Cluster III</text>
<rect x="251.1" y="492.20" width="14.0" height="118.10" fill="white" stroke="#222" stroke-width="1.25"/>
<text x="261.20" y="546.00" font-size="10.2" text-anchor="middle" fill="#111" stroke="#111" stroke-width="0.15" font-weight="bold" transform="rotate(-90 261.20 546.00)" >Cluster IV</text>
<text x="9.00" y="18.80" font-size="11.5" text-anchor="start" fill="#111" stroke="#111" stroke-width="0.35" font-weight="bold" >A</text>
<text x="239.40" y="19.00" font-size="11.5" text-anchor="start" fill="#111" stroke="#111" stroke-width="0.35" font-weight="bold" >B</text>
<text x="239.60" y="188.60" font-size="11.5" text-anchor="start" fill="#111" stroke="#111" stroke-width="0.35" font-weight="bold" >C</text>
<rect x="0.00" y="0.00" width="520.00" height="1.00" fill="#000" />
<rect x="0.00" y="0.00" width="1.00" height="647.00" fill="#000" />
<rect x="518.50" y="0.00" width="1.50" height="647.00" fill="#000" />
<rect x="0.00" y="645.30" width="520.00" height="1.70" fill="#000" />
</svg>
</body></html>
